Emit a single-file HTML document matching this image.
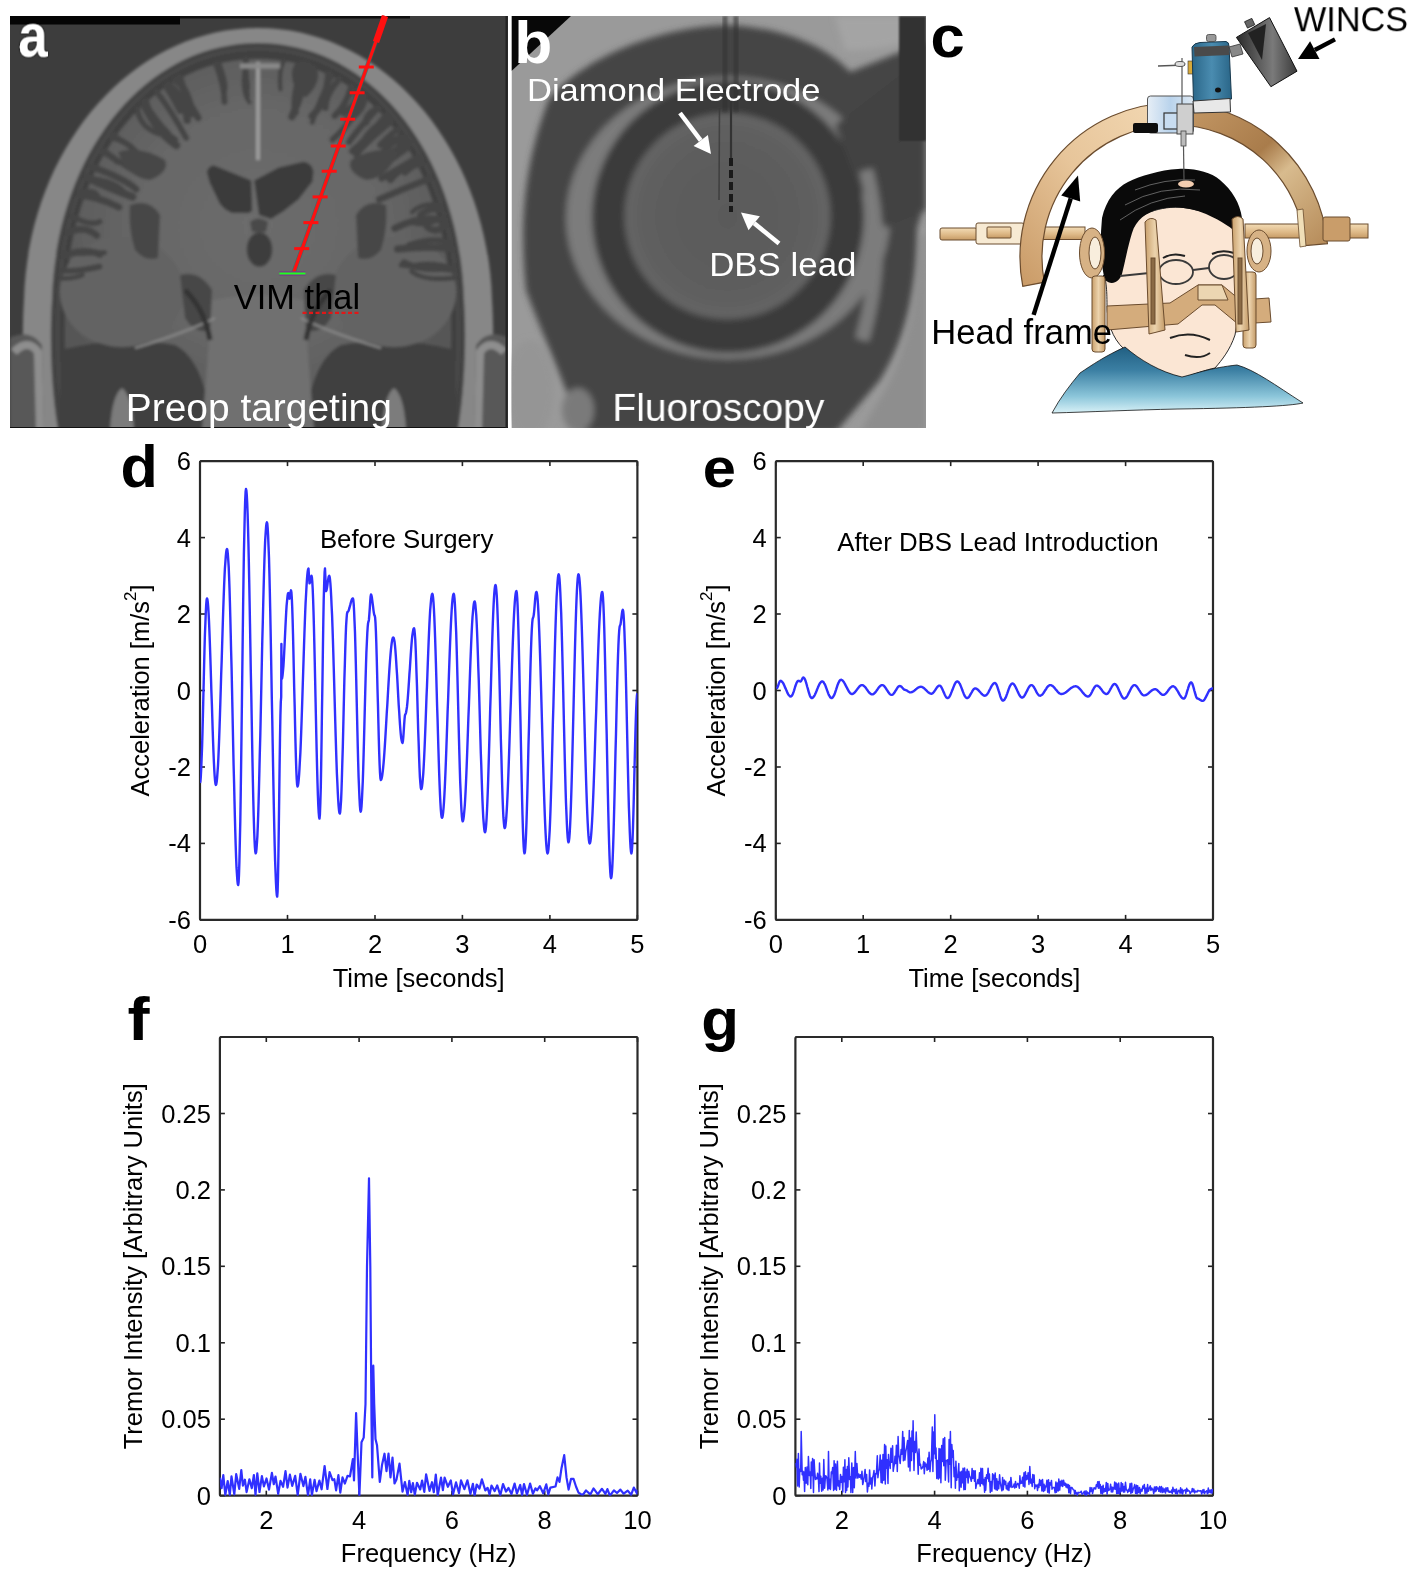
<!DOCTYPE html>
<html><head><meta charset="utf-8"><style>
html,body{margin:0;padding:0;background:#fff;width:1418px;height:1579px;overflow:hidden;}
svg{display:block;will-change:transform}
</style></head><body><svg width="1418" height="1579" viewBox="0 0 1418 1579"><defs>
<clipPath id="clipA"><rect x="10" y="16" width="498" height="412"/></clipPath>
<clipPath id="clipB"><rect x="511.5" y="16" width="414.5" height="412"/></clipPath>
<filter id="blurB" x="-5%" y="-5%" width="110%" height="110%"><feGaussianBlur stdDeviation="3"/></filter>
<filter id="blurA" x="-5%" y="-5%" width="110%" height="110%"><feGaussianBlur stdDeviation="1.6"/></filter>
<filter id="blurS" x="-20%" y="-20%" width="140%" height="140%"><feGaussianBlur stdDeviation="0.8"/></filter>
<filter id="txtsh" x="-10%" y="-10%" width="120%" height="120%"><feDropShadow dx="0" dy="0" stdDeviation="1.2" flood-color="#000" flood-opacity="0.9"/></filter>
<radialGradient id="brainG" cx="0.5" cy="0.45" r="0.55">
 <stop offset="0" stop-color="#6c6c6c"/><stop offset="0.6" stop-color="#666666"/><stop offset="1" stop-color="#575757"/>
</radialGradient>
<radialGradient id="discG" cx="0.5" cy="0.5" r="0.5">
 <stop offset="0" stop-color="#5a5a5a"/><stop offset="0.8" stop-color="#5e5e5e"/><stop offset="1" stop-color="#666"/>
</radialGradient>
<linearGradient id="shirtG" x1="0" y1="0" x2="0" y2="1">
 <stop offset="0" stop-color="#215f82"/><stop offset="0.35" stop-color="#3b7fa3"/><stop offset="0.75" stop-color="#8cc6da"/><stop offset="1" stop-color="#d8f1f7"/>
</linearGradient>
<linearGradient id="frameL" x1="0" y1="1" x2="1" y2="0">
 <stop offset="0" stop-color="#c99a66"/><stop offset="0.5" stop-color="#e7c59a"/><stop offset="1" stop-color="#f3d9b4"/>
</linearGradient>
<linearGradient id="frameR" x1="0" y1="0" x2="1" y2="1">
 <stop offset="0" stop-color="#c79b68"/><stop offset="0.45" stop-color="#a97c4b"/><stop offset="0.6" stop-color="#d8bb8e"/><stop offset="1" stop-color="#b58a58"/>
</linearGradient>
<linearGradient id="barG" x1="0" y1="0" x2="0" y2="1">
 <stop offset="0" stop-color="#f3dcb6"/><stop offset="0.6" stop-color="#ddb886"/><stop offset="1" stop-color="#c69b66"/>
</linearGradient>
<linearGradient id="tanG" x1="0" y1="0" x2="1" y2="0">
 <stop offset="0" stop-color="#c9a06c"/><stop offset="0.5" stop-color="#ecd3ad"/><stop offset="1" stop-color="#c49b68"/>
</linearGradient>
<linearGradient id="wincsG" x1="0" y1="0" x2="1" y2="0">
 <stop offset="0" stop-color="#2a2a2a"/><stop offset="0.35" stop-color="#5a5a5a"/><stop offset="0.6" stop-color="#7a7a7a"/><stop offset="1" stop-color="#3a3a3a"/>
</linearGradient>
<linearGradient id="boxG" x1="0" y1="0" x2="1" y2="0">
 <stop offset="0" stop-color="#2a6688"/><stop offset="0.5" stop-color="#4a8cb0"/><stop offset="1" stop-color="#2a6688"/>
</linearGradient>
<linearGradient id="mechG" x1="0" y1="0" x2="1" y2="0">
 <stop offset="0" stop-color="#e6eef6"/><stop offset="0.5" stop-color="#b9d3ec"/><stop offset="1" stop-color="#dde8f2"/>
</linearGradient>
</defs><g clip-path="url(#clipA)"><rect x="10" y="16" width="498" height="412" fill="#3d3d3d"/><g filter="url(#blurA)"><path d="M30.0,430 C22.0,380 22.0,330 24.0,300 C28.0,150.0 130.0,28.0 258.0,28.0 C386.0,28.0 488.0,150.0 492.0,300 C494.0,330 494.0,380 486.0,430 Z" fill="#878787" /><path d="M58.0,430 C50.0,380 50.0,330 52.0,300 C56.0,154.5 144.0,43.0 258.0,43.0 C372.0,43.0 460.0,154.5 464.0,300 C466.0,330 466.0,380 458.0,430 Z" fill="#434343" /><path d="M64.0,430 C56.0,380 56.0,330 58.0,300 C62.0,156.0 147.0,48.0 258.0,48.0 C369.0,48.0 454.0,156.0 458.0,300 C460.0,330 460.0,380 452.0,430 Z" fill="#4e4e4e" /><path d="M66.0,430 C58.0,380 58.0,330 60.0,300 C64.0,156.6 148.0,50.0 258.0,50.0 C368.0,50.0 452.0,156.6 456.0,300 C458.0,330 458.0,380 450.0,430 Z" fill="#404040" /><path d="M72.0,430 C64.0,380 64.0,330 66.0,300 C70.0,159.3 151.0,59.0 258.0,59.0 C365.0,59.0 446.0,159.3 450.0,300 C452.0,330 452.0,380 444.0,430 Z" fill="url(#brainG)" /><path d="M60,350 Q120,335 175,345 Q205,360 212,430 L60,430 Z" fill="#414141"/><path d="M456,350 Q396,335 341,345 Q311,360 304,430 L456,430 Z" fill="#414141"/><ellipse cx="122" cy="292" rx="62" ry="55" fill="#646464"/><ellipse cx="394" cy="292" rx="62" ry="55" fill="#646464"/><path d="M212,300 Q258,290 304,300 L314,430 L202,430 Z" fill="#6f6f6f"/><path d="M10,338 Q30,328 42,345 L44,430 L10,430 Z" fill="#585858"/><path d="M508,338 Q488,328 476,345 L474,430 L508,430 Z" fill="#585858"/><path d="M14,352 Q28,338 38,352 L40,430" fill="none" stroke="#8e8e8e" stroke-width="8"/><path d="M504,352 Q490,338 480,352 L478,430" fill="none" stroke="#8e8e8e" stroke-width="8"/><path d="M110,430 Q112,395 122,388 Q132,395 134,430 Z" fill="#7c7c7c"/><path d="M406,430 Q404,395 394,388 Q384,395 382,430 Z" fill="#7c7c7c"/><g fill="none" stroke="#444" stroke-linecap="round"><path d="M328.6,73.9 Q326.1,103.9 311.7,116.1" stroke-width="7.0"/><path d="M446.1,224.4 Q436.0,234.5 427.2,227.0" stroke-width="6.6"/><path d="M441.8,209.9 Q430.3,207.2 420.1,214.7" stroke-width="6.2"/><path d="M301.1,63.8 Q293.3,68.4 296.9,81.8" stroke-width="7.7"/><path d="M398.4,129.4 Q395.3,130.0 380.3,145.0" stroke-width="6.5"/><path d="M80.9,191.9 Q96.9,188.9 98.0,197.5" stroke-width="4.9"/><path d="M454.1,266.4 Q424.8,273.5 404.0,262.2" stroke-width="6.2"/><path d="M357.7,90.9 Q359.7,105.6 344.1,112.6" stroke-width="7.9"/><path d="M440.2,205.2 Q423.3,202.0 412.0,212.1" stroke-width="4.6"/><path d="M67.7,233.0 Q84.3,224.4 96.8,235.6" stroke-width="6.7"/><path d="M166.4,85.5 Q179.9,97.9 180.7,111.2" stroke-width="5.3"/><path d="M247.0,58.4 Q239.4,89.9 249.5,102.4" stroke-width="4.1"/><path d="M391.7,121.5 Q364.3,144.3 356.2,155.6" stroke-width="5.5"/><path d="M303.7,64.5 Q292.5,67.1 299.3,82.3" stroke-width="7.8"/><path d="M102.8,149.7 Q130.7,171.0 141.4,174.6" stroke-width="5.4"/><path d="M175.3,80.1 Q189.0,89.1 191.7,113.8" stroke-width="7.0"/><path d="M410.8,146.2 Q381.0,169.1 369.6,174.2" stroke-width="4.4"/><path d="M167.9,84.5 Q186.0,99.1 187.3,120.2" stroke-width="7.7"/><path d="M284.4,60.2 Q278.7,68.4 280.4,89.4" stroke-width="4.3"/><path d="M87.1,177.9 Q117.0,179.6 127.1,194.8" stroke-width="4.2"/><path d="M454.4,269.4 Q433.8,262.3 416.9,265.7" stroke-width="6.4"/><path d="M421.1,162.8 Q404.2,162.2 390.4,179.3" stroke-width="7.7"/><path d="M63.4,255.6 Q88.2,247.7 99.6,254.6" stroke-width="6.9"/><path d="M450.5,243.4 Q435.6,236.2 409.2,244.8" stroke-width="5.7"/><path d="M87.2,177.6 Q105.7,186.3 132.5,196.9" stroke-width="8.0"/><path d="M429.3,178.6 Q403.4,188.7 379.3,199.4" stroke-width="6.9"/><path d="M245.7,58.5 Q244.7,65.8 247.5,87.2" stroke-width="5.5"/><path d="M454.5,270.6 Q430.5,267.8 401.3,265.0" stroke-width="5.4"/><path d="M72.1,216.6 Q91.6,226.5 99.8,221.6" stroke-width="5.4"/><path d="M406.6,140.0 Q391.7,157.2 369.1,167.8" stroke-width="7.0"/><path d="M179.9,77.6 Q184.7,97.4 198.1,117.7" stroke-width="7.1"/><path d="M364.2,95.8 Q365.0,110.7 347.9,119.6" stroke-width="6.3"/><path d="M61.5,270.6 Q75.5,272.1 99.5,266.6" stroke-width="5.9"/><path d="M417.9,157.2 Q405.7,164.7 381.6,178.3" stroke-width="6.6"/><path d="M386.4,115.8 Q366.6,140.2 352.8,150.9" stroke-width="7.5"/><path d="M363.0,94.8 Q356.9,117.6 332.7,139.6" stroke-width="6.1"/><path d="M92.4,167.3 Q123.1,177.8 136.2,189.2" stroke-width="6.8"/><path d="M378.1,107.6 Q357.0,130.4 349.1,142.0" stroke-width="6.3"/><path d="M351.4,86.6 Q345.5,106.7 334.7,115.8" stroke-width="6.5"/><path d="M378.5,107.9 Q365.5,114.0 366.2,122.4" stroke-width="6.6"/><path d="M111.4,137.3 Q131.2,141.4 145.8,163.8" stroke-width="5.9"/><path d="M114.3,133.5 Q114.7,136.2 129.8,146.1" stroke-width="4.7"/><path d="M101.7,151.4 Q109.2,154.2 118.0,161.7" stroke-width="6.4"/><path d="M310.3,66.6 Q314.7,69.5 303.0,92.4" stroke-width="5.6"/><path d="M137.1,108.4 Q140.1,127.6 158.6,133.6" stroke-width="5.5"/><path d="M63.7,253.3 Q76.0,253.8 104.4,252.6" stroke-width="5.4"/><path d="M305.1,64.9 Q304.9,89.2 291.9,116.7" stroke-width="7.3"/><path d="M339.1,79.3 Q325.2,95.5 325.5,107.9" stroke-width="6.3"/><path d="M451.5,248.6 Q426.7,245.8 397.7,249.0" stroke-width="7.6"/><path d="M60.8,278.2 Q73.0,279.0 82.6,275.1" stroke-width="4.6"/><path d="M332.2,75.6 Q319.7,97.7 312.2,122.5" stroke-width="4.9"/><path d="M143.2,102.9 Q157.4,133.4 176.4,145.4" stroke-width="7.7"/><path d="M313.5,67.7 Q319.1,80.8 305.5,94.1" stroke-width="5.7"/><path d="M156.8,92.0 Q171.3,110.6 186.1,137.8" stroke-width="5.9"/><path d="M79.6,195.0 Q98.1,196.9 118.8,207.1" stroke-width="7.1"/><path d="M421.3,163.1 Q413.8,162.9 405.0,171.8" stroke-width="7.7"/><path d="M405.0,137.8 Q389.6,139.1 383.4,154.3" stroke-width="8.0"/><path d="M144.0,102.1 Q155.8,121.1 168.7,134.2" stroke-width="6.4"/><path d="M388.9,118.4 Q386.2,122.4 373.1,134.3" stroke-width="6.1"/><path d="M165.5,86.0 Q173.2,98.0 179.7,111.3" stroke-width="5.4"/><path d="M389.6,119.2 Q366.2,128.3 361.3,147.3" stroke-width="5.8"/><path d="M445.0,220.5 Q420.8,214.7 394.8,228.4" stroke-width="7.1"/><path d="M215.9,63.5 Q224.4,85.4 224.5,101.9" stroke-width="5.9"/><path d="M444.0,217.2 Q426.0,227.0 412.3,222.8" stroke-width="4.8"/><path d="M145.6,100.8 Q151.5,127.0 174.9,139.7" stroke-width="6.8"/><path d="M218.8,62.8 Q227.3,85.0 224.7,90.8" stroke-width="4.6"/><path d="M245.3,58.5 Q246.5,74.2 247.9,96.7" stroke-width="4.6"/><path d="M307.9,65.8 Q293.0,83.6 295.3,112.2" stroke-width="7.3"/><path d="M408.8,143.1 Q381.9,159.9 374.1,167.8" stroke-width="7.9"/><path d="M455.2,277.7 Q424.4,281.5 411.6,271.6" stroke-width="4.9"/></g><g fill="#474747"><path d="M118,152 Q140,145 165,160 Q170,172 150,180 Q128,178 118,152 Z"/><path d="M130,205 Q150,198 160,215 L158,258 Q145,262 135,250 Q128,228 130,205 Z"/><path d="M398,152 Q376,145 351,160 Q346,172 366,180 Q388,178 398,152 Z"/><path d="M386,205 Q366,198 356,215 L358,258 Q371,262 381,250 Q388,228 386,205 Z"/><path d="M180,275 Q200,270 212,290 L210,330 Q195,335 185,318 Z"/><path d="M336,275 Q316,270 304,290 L306,330 Q321,335 331,318 Z"/></g><path d="M135,348 Q185,333 215,318" fill="none" stroke="#8a8a8a" stroke-width="2"/><path d="M381,348 Q331,333 301,318" fill="none" stroke="#8a8a8a" stroke-width="2"/><path d="M185,290 Q205,310 210,340" fill="none" stroke="#333" stroke-width="5"/><path d="M331,290 Q311,310 306,340" fill="none" stroke="#333" stroke-width="5"/><path d="M258,62 L258,160" stroke="#9c9c9c" stroke-width="4"/><path d="M240,66 L280,66" stroke="#8a8a8a" stroke-width="5"/><path d="M206.8,171.6 Q210,164 214.7,165.7 L251.2,180.5 L252.2,211 Q248,214 245.3,213 L232.4,213 Q224,210 219.6,203.2 L209.7,182.4 Z" fill="#3a3a3a"/><path d="M254.2,180.5 L278.8,167.6 L303.5,161.7 Q312,163 313.4,171.6 L312.4,181.5 L298.6,199.2 L283.8,211 L271,219 L259.1,215 Z" fill="#3a3a3a"/><ellipse cx="259.5" cy="249.5" rx="12.8" ry="17.3" fill="#3c3c3c"/><path d="M250,222 Q258,215 268,222 L266,232 L252,232 Z" fill="#4a4a4a"/></g><rect x="10" y="16" width="170" height="8.5" fill="#050505"/><rect x="180" y="16" width="230" height="2.5" fill="#101010"/><rect x="10" y="427" width="498" height="2" fill="#111"/><rect x="505.5" y="16" width="2.2" height="413" fill="#222"/></g><line x1="385" y1="16" x2="293.4" y2="273.2" stroke="#1f6f6a" stroke-width="4.6" opacity="0.55"/><line x1="385" y1="16" x2="293.4" y2="273.2" stroke="#ff1010" stroke-width="3.2"/><line x1="385" y1="16" x2="376" y2="42" stroke="#ff1010" stroke-width="6.5"/><g stroke="#ff1010" stroke-width="3"><line x1="358.8" y1="67.0" x2="373.8" y2="67.0"/><line x1="349.6" y1="92.8" x2="364.6" y2="92.8"/><line x1="340.2" y1="119.2" x2="355.2" y2="119.2"/><line x1="330.7" y1="146.0" x2="345.7" y2="146.0"/><line x1="321.7" y1="171.2" x2="336.7" y2="171.2"/><line x1="312.6" y1="196.9" x2="327.6" y2="196.9"/><line x1="303.4" y1="222.6" x2="318.4" y2="222.6"/><line x1="294.2" y1="248.6" x2="309.2" y2="248.6"/></g><line x1="279.3" y1="273.5" x2="305.5" y2="273.5" stroke="#7a3a8a" stroke-width="4.5"/><line x1="279.3" y1="273.5" x2="305.5" y2="273.5" stroke="#20ff20" stroke-width="2"/><line x1="302.5" y1="312.8" x2="359.4" y2="312.8" stroke="#e01818" stroke-width="2.2" stroke-dasharray="4,2.5"/><text transform="translate(233.83,308.60) scale(0.9944,1)" font-family='"Liberation Sans", sans-serif' font-size="34.62" fill="#000" >VIM thal</text><g clip-path="url(#clipA)"><text transform="translate(125.71,420.50) scale(0.9850,1)" font-family='"Liberation Sans", sans-serif' font-size="39.53" fill="#fff" >Preop targeting</text></g><text transform="translate(18.16,56.50) scale(0.8774,1)" font-family='"Liberation Sans", sans-serif' font-size="60.40" font-weight="bold" fill="#fff" filter="url(#txtsh)">a</text><g clip-path="url(#clipB)"><rect x="511.5" y="16" width="414.5" height="413" fill="#9a9a9a"/><g filter="url(#blurB)"><path d="M728,25 C790,28 830,50 850,72 L926,42 L926,200 L917,228 C917,290 905,340 880,380 L836,432 L580,432 C565,380 540,330 526,290 C520,230 522,170 548,101 C570,70 640,28 728,25 Z" fill="#454545"/><ellipse cx="728" cy="218" rx="162" ry="141" fill="#7c7c7c"/><circle cx="728" cy="217" r="136" fill="#3a3a3a"/><circle cx="727.5" cy="216" r="103" fill="url(#discG)"/><path d="M835,125 L926,55 L926,210 L885,228 L858,185 Z" fill="#434343"/><path d="M835,16 L926,16 L926,36 Q880,52 845,50 Z" fill="#a4a4a4"/><path d="M866,170 Q888,250 862,340" fill="none" stroke="#7c7c7c" stroke-width="14"/><path d="M926,235 L921,235 Q918,330 885,390 L860,432 L926,432 Z" fill="#8e8e8e"/><ellipse cx="530" cy="390" rx="24" ry="50" fill="#959595"/><ellipse cx="578" cy="410" rx="16" ry="22" fill="#7a7a7a"/></g><rect x="899" y="16" width="27" height="125" fill="#303030" filter="url(#blurS)"/><path d="M511.5,16 L571,16 L511.5,71 Z" fill="#080808"/><g filter="url(#blurS)"><line x1="725" y1="16" x2="725" y2="112" stroke="#303030" stroke-width="5" opacity="0.55"/><line x1="736" y1="16" x2="736" y2="112" stroke="#303030" stroke-width="5" opacity="0.55"/></g><line x1="719.5" y1="108" x2="719" y2="200" stroke="#3a3a3a" stroke-width="1.6" opacity="0.8"/><line x1="731" y1="100" x2="731" y2="158" stroke="#333" stroke-width="2.2"/><line x1="731" y1="158" x2="731" y2="212" stroke="#1a1a1a" stroke-width="4" stroke-dasharray="8,4"/></g><line x1="680.0" y1="113.0" x2="700.7" y2="140.4" stroke="#fff" stroke-width="4.5"/><path d="M711.0,154.0 L693.6,145.9 L707.9,135.0 Z" fill="#fff"/><line x1="779.0" y1="243.5" x2="754.2" y2="223.2" stroke="#fff" stroke-width="4.5"/><path d="M741.0,212.5 L759.9,216.3 L748.5,230.2 Z" fill="#fff"/><text transform="translate(526.97,100.60) scale(1.0932,1)" font-family='"Liberation Sans", sans-serif' font-size="31.59" fill="#fff" >Diamond Electrode</text><text transform="translate(709.14,276.20) scale(1.0361,1)" font-family='"Liberation Sans", sans-serif' font-size="33.66" fill="#fff" >DBS lead</text><g clip-path="url(#clipB)"><text transform="translate(612.41,420.90) scale(0.9830,1)" font-family='"Liberation Sans", sans-serif' font-size="39.59" fill="#fff" >Fluoroscopy</text></g><text transform="translate(514.19,62.70) scale(1.0431,1)" font-family='"Liberation Sans", sans-serif' font-size="59.73" font-weight="bold" fill="#fff" >b</text><g stroke="#6b4c2e" stroke-width="1"><rect x="940" y="228" width="37" height="12" rx="2" fill="url(#barG)"/><rect x="976" y="223" width="48" height="21" rx="2" fill="#f7ead3"/><rect x="987" y="227" width="24" height="11" rx="1" fill="url(#barG)"/><rect x="1040" y="227" width="45" height="12.5" fill="url(#barG)"/><rect x="1245" y="224" width="123" height="14" fill="url(#barG)"/></g><path d="M1022.8,286.4 A154,154 0 0 1 1174.0,103.0 L1174.0,125.0 A132,132 0 0 0 1044.4,282.2 Z" fill="url(#frameL)" stroke="#6b4c2e" stroke-width="1.2"/><path d="M1174.0,103.0 A154,154 0 0 1 1327.4,243.6 L1305.5,245.5 A132,132 0 0 0 1174.0,125.0 Z" fill="url(#frameR)" stroke="#6b4c2e" stroke-width="1.2"/><rect x="1323" y="217" width="27" height="24" rx="2" fill="#c99d6a" stroke="#6b4c2e" stroke-width="1"/><path d="M1297,210 L1303,209 L1306,246 L1300,247 Z" fill="#f0dfb8" stroke="#6b4c2e" stroke-width="0.8"/><path d="M1103,276 C1106,276 1107,290 1107,305 C1107,322 1112,338 1124,349 L1128,356 C1140,362 1160,372 1182,378 C1195,374 1205,370 1215,368 C1222,360 1230,350 1235,335 C1240,310 1240,280 1239,255 L1237,230 C1225,218 1205,210 1180,207 C1155,207 1135,215 1125,235 C1118,252 1112,268 1103,276 Z" fill="#fbe6d4" stroke="#2a2a2a" stroke-width="1"/><path d="M1105,280 C1100,262 1100,240 1102,218 C1106,200 1116,188 1128,182 C1140,176 1160,170 1178,169 C1195,168 1210,172 1220,180 C1232,190 1240,203 1242,218 L1240,236 C1232,228 1222,221 1206,214 C1192,208 1178,206 1160,209 C1146,212 1136,220 1132,233 C1128,246 1125,262 1122,274 C1119,282 1112,286 1105,280 Z" fill="#0a0a0a"/><g fill="none" stroke="#777" stroke-width="0.8"><path d="M1125,205 Q1160,185 1200,190"/><path d="M1120,220 Q1150,198 1185,196"/><path d="M1135,190 Q1165,178 1195,180"/></g><ellipse cx="1186" cy="184" rx="8" ry="3.5" fill="#f3cdb0"/><path d="M1052,413 C1060,398 1070,385 1080,373 C1092,365 1105,356 1125,347 C1140,360 1160,372 1182,377 C1198,373 1210,368 1237,365 C1255,370 1275,385 1303,403 C1290,406 1250,408 1178,409 C1130,410 1090,412 1052,413 Z" fill="url(#shirtG)" stroke="#111" stroke-width="0.8"/><g fill="none" stroke="#3a3a3a" stroke-width="1.8"><ellipse cx="1176" cy="272" rx="17" ry="12"/><ellipse cx="1224" cy="267" rx="15" ry="12"/><line x1="1193" y1="270" x2="1209" y2="268"/><line x1="1159" y1="272" x2="1120" y2="276"/></g><g fill="none" stroke="#222" stroke-width="2"><path d="M1163,258 q10,-6 22,-2"/><path d="M1212,254 q10,-5 22,-1"/><path d="M1170,338 q20,-8 40,2"/><path d="M1185,355 q15,5 25,-2"/></g><g stroke="#6b4c2e" stroke-width="1"><path d="M1107,306 L1170,303 L1198,285 L1222,285 L1240,300 L1269,298 L1271,322 L1238,324 L1215,305 L1202,305 L1178,324 L1107,330 Z" fill="#d4ac7c"/><path d="M1198,285 L1222,285 L1228,300 L1198,300 Z" fill="#ecd6b2"/><ellipse cx="1092" cy="253" rx="12.5" ry="25" fill="#d7b285"/><ellipse cx="1095" cy="253" rx="6" ry="16" fill="#f8eedd"/><ellipse cx="1259" cy="251" rx="12" ry="21" fill="#d7b285"/><ellipse cx="1257" cy="251" rx="6" ry="13" fill="#f8eedd"/><rect x="1092" y="276" width="13" height="76" rx="3" fill="url(#tanG)"/><rect x="1243" y="272" width="13" height="76" rx="3" fill="url(#tanG)"/><path d="M1145,222 Q1150,216 1156,220 L1165,330 L1149,334 Z" fill="url(#tanG)"/><path d="M1232,219 Q1238,214 1243,219 L1249,330 L1236,332 Z" fill="url(#tanG)"/><rect x="1151" y="258" width="4" height="66" fill="#8a6a45"/><rect x="1238" y="258" width="4" height="66" fill="#8a6a45"/></g><rect x="1147.5" y="96" width="46" height="37" rx="3" fill="url(#mechG)" stroke="#555" stroke-width="1"/><rect x="1133" y="123" width="25" height="10" rx="2" fill="#0d0d0d"/><rect x="1164" y="113" width="16" height="16" fill="#c8dcf0" stroke="#333" stroke-width="1.2"/><rect x="1177" y="104" width="16" height="30" fill="#cfcfcf" stroke="#444" stroke-width="1"/><rect x="1181" y="131" width="5" height="15" fill="#bbb" stroke="#444" stroke-width="0.8"/><line x1="1183.5" y1="146" x2="1184" y2="180" stroke="#555" stroke-width="1.2"/><line x1="1182" y1="58" x2="1182" y2="104" stroke="#555" stroke-width="1.2"/><line x1="1158" y1="66" x2="1185" y2="65" stroke="#555" stroke-width="1.4"/><ellipse cx="1180" cy="64" rx="5" ry="2.5" fill="#ddd" stroke="#333" stroke-width="0.8"/><rect x="1188" y="61" width="6" height="13" fill="#d7a93a" stroke="#333" stroke-width="0.6"/><path d="M1192,47 Q1194,43 1200,42.5 L1226,41.5 Q1229,42 1229,46 L1231.5,99 L1193.5,102 Z" fill="url(#boxG)" stroke="#17384d" stroke-width="1"/><path d="M1194,47 L1229,45.5 L1229.5,55 L1194.5,56.5 Z" fill="#4a4a4a"/><rect x="1206.5" y="34.5" width="9.5" height="7" rx="2" fill="#999" stroke="#444" stroke-width="0.8"/><path d="M1193,101 L1230,98.5 L1230.5,112 L1194,113 Z" fill="#e8e8e8" stroke="#333" stroke-width="1"/><ellipse cx="1218" cy="90" rx="3" ry="2.5" fill="#111"/><path d="M1229,47 L1240,44 L1243,54 L1232,57 Z" fill="#888" stroke="#333" stroke-width="0.8"/><path d="M1236.4,37.4 L1269.5,17.6 L1297,71.2 L1270.9,86.7 Z" fill="url(#wincsG)" stroke="#111" stroke-width="1"/><path d="M1248,33 L1266,24 L1262,60 Z" fill="#222"/><rect x="1245.5" y="20" width="8" height="7" fill="#666" stroke="#222" stroke-width="0.8" transform="rotate(-25 1249 23)"/><line x1="1335.0" y1="39.4" x2="1314.8" y2="50.0" stroke="#000" stroke-width="4.4"/><path d="M1298.0,58.9 L1310.1,41.2 L1319.5,58.9 Z" fill="#000"/><line x1="1033.6" y1="314.8" x2="1070.7" y2="198.5" stroke="#000" stroke-width="4.4"/><path d="M1078.0,175.6 L1080.2,201.5 L1061.2,195.4 Z" fill="#000"/><text transform="translate(1293.93,31.24) scale(0.9584,1)" font-family='"Liberation Sans", sans-serif' font-size="35.73" fill="#000" >WINCS</text><text transform="translate(931.36,344.00) scale(1.0110,1)" font-family='"Liberation Sans", sans-serif' font-size="34.21" fill="#000" >Head frame</text><text transform="translate(930.50,56.71) scale(1.0334,1)" font-family='"Liberation Sans", sans-serif' font-size="59.49" font-weight="bold" fill="#000" >c</text><g stroke="#222" stroke-width="1.6" fill="none"><line x1="200.0" y1="919.9" x2="200.0" y2="914.9"/><line x1="200.0" y1="461.1" x2="200.0" y2="466.1"/><line x1="287.5" y1="919.9" x2="287.5" y2="914.9"/><line x1="287.5" y1="461.1" x2="287.5" y2="466.1"/><line x1="375.0" y1="919.9" x2="375.0" y2="914.9"/><line x1="375.0" y1="461.1" x2="375.0" y2="466.1"/><line x1="462.4" y1="919.9" x2="462.4" y2="914.9"/><line x1="462.4" y1="461.1" x2="462.4" y2="466.1"/><line x1="549.9" y1="919.9" x2="549.9" y2="914.9"/><line x1="549.9" y1="461.1" x2="549.9" y2="466.1"/><line x1="637.4" y1="919.9" x2="637.4" y2="914.9"/><line x1="637.4" y1="461.1" x2="637.4" y2="466.1"/><line x1="200.0" y1="919.9" x2="205.0" y2="919.9"/><line x1="637.4" y1="919.9" x2="632.4" y2="919.9"/><line x1="200.0" y1="843.4" x2="205.0" y2="843.4"/><line x1="637.4" y1="843.4" x2="632.4" y2="843.4"/><line x1="200.0" y1="767.0" x2="205.0" y2="767.0"/><line x1="637.4" y1="767.0" x2="632.4" y2="767.0"/><line x1="200.0" y1="690.5" x2="205.0" y2="690.5"/><line x1="637.4" y1="690.5" x2="632.4" y2="690.5"/><line x1="200.0" y1="614.0" x2="205.0" y2="614.0"/><line x1="637.4" y1="614.0" x2="632.4" y2="614.0"/><line x1="200.0" y1="537.6" x2="205.0" y2="537.6"/><line x1="637.4" y1="537.6" x2="632.4" y2="537.6"/><line x1="200.0" y1="461.1" x2="205.0" y2="461.1"/><line x1="637.4" y1="461.1" x2="632.4" y2="461.1"/></g><rect x="200.0" y="461.1" width="437.4" height="458.8" fill="none" stroke="#2a2a2a" stroke-width="2.2" rx="1.5"/><g font-family='"Liberation Sans", sans-serif' font-size="25.5" fill="#000"><text x="200.0" y="952.9" text-anchor="middle">0</text><text x="287.5" y="952.9" text-anchor="middle">1</text><text x="375.0" y="952.9" text-anchor="middle">2</text><text x="462.4" y="952.9" text-anchor="middle">3</text><text x="549.9" y="952.9" text-anchor="middle">4</text><text x="637.4" y="952.9" text-anchor="middle">5</text><text x="191.0" y="928.9" text-anchor="end">-6</text><text x="191.0" y="852.4" text-anchor="end">-4</text><text x="191.0" y="776.0" text-anchor="end">-2</text><text x="191.0" y="699.5" text-anchor="end">0</text><text x="191.0" y="623.0" text-anchor="end">2</text><text x="191.0" y="546.6" text-anchor="end">4</text><text x="191.0" y="470.1" text-anchor="end">6</text><text x="418.7" y="987.1" text-anchor="middle">Time [seconds]</text><text transform="translate(149.0,690.5) rotate(-90)" text-anchor="middle">Acceleration [m/s<tspan dy="-13" font-size="17">2</tspan><tspan dy="13">]</tspan></text></g><text transform="translate(319.88,548.20) scale(0.9983,1)" font-family='"Liberation Sans", sans-serif' font-size="25.85" fill="#000" >Before Surgery</text><g stroke="#222" stroke-width="1.6" fill="none"><line x1="775.8" y1="919.9" x2="775.8" y2="914.9"/><line x1="775.8" y1="461.1" x2="775.8" y2="466.1"/><line x1="863.2" y1="919.9" x2="863.2" y2="914.9"/><line x1="863.2" y1="461.1" x2="863.2" y2="466.1"/><line x1="950.7" y1="919.9" x2="950.7" y2="914.9"/><line x1="950.7" y1="461.1" x2="950.7" y2="466.1"/><line x1="1038.1" y1="919.9" x2="1038.1" y2="914.9"/><line x1="1038.1" y1="461.1" x2="1038.1" y2="466.1"/><line x1="1125.6" y1="919.9" x2="1125.6" y2="914.9"/><line x1="1125.6" y1="461.1" x2="1125.6" y2="466.1"/><line x1="1213.0" y1="919.9" x2="1213.0" y2="914.9"/><line x1="1213.0" y1="461.1" x2="1213.0" y2="466.1"/><line x1="775.8" y1="919.9" x2="780.8" y2="919.9"/><line x1="1213.0" y1="919.9" x2="1208.0" y2="919.9"/><line x1="775.8" y1="843.4" x2="780.8" y2="843.4"/><line x1="1213.0" y1="843.4" x2="1208.0" y2="843.4"/><line x1="775.8" y1="767.0" x2="780.8" y2="767.0"/><line x1="1213.0" y1="767.0" x2="1208.0" y2="767.0"/><line x1="775.8" y1="690.5" x2="780.8" y2="690.5"/><line x1="1213.0" y1="690.5" x2="1208.0" y2="690.5"/><line x1="775.8" y1="614.0" x2="780.8" y2="614.0"/><line x1="1213.0" y1="614.0" x2="1208.0" y2="614.0"/><line x1="775.8" y1="537.6" x2="780.8" y2="537.6"/><line x1="1213.0" y1="537.6" x2="1208.0" y2="537.6"/><line x1="775.8" y1="461.1" x2="780.8" y2="461.1"/><line x1="1213.0" y1="461.1" x2="1208.0" y2="461.1"/></g><rect x="775.8" y="461.1" width="437.2" height="458.8" fill="none" stroke="#2a2a2a" stroke-width="2.2" rx="1.5"/><g font-family='"Liberation Sans", sans-serif' font-size="25.5" fill="#000"><text x="775.8" y="952.9" text-anchor="middle">0</text><text x="863.2" y="952.9" text-anchor="middle">1</text><text x="950.7" y="952.9" text-anchor="middle">2</text><text x="1038.1" y="952.9" text-anchor="middle">3</text><text x="1125.6" y="952.9" text-anchor="middle">4</text><text x="1213.0" y="952.9" text-anchor="middle">5</text><text x="766.8" y="928.9" text-anchor="end">-6</text><text x="766.8" y="852.4" text-anchor="end">-4</text><text x="766.8" y="776.0" text-anchor="end">-2</text><text x="766.8" y="699.5" text-anchor="end">0</text><text x="766.8" y="623.0" text-anchor="end">2</text><text x="766.8" y="546.6" text-anchor="end">4</text><text x="766.8" y="470.1" text-anchor="end">6</text><text x="994.4" y="987.1" text-anchor="middle">Time [seconds]</text><text transform="translate(725.0,690.5) rotate(-90)" text-anchor="middle">Acceleration [m/s<tspan dy="-13" font-size="17">2</tspan><tspan dy="13">]</tspan></text></g><text transform="translate(837.25,551.00) scale(0.9992,1)" font-family='"Liberation Sans", sans-serif' font-size="25.85" fill="#000" >After DBS Lead Introduction</text><g stroke="#222" stroke-width="1.6" fill="none"><line x1="266.3" y1="1495.7" x2="266.3" y2="1490.7"/><line x1="266.3" y1="1037.0" x2="266.3" y2="1042.0"/><line x1="359.1" y1="1495.7" x2="359.1" y2="1490.7"/><line x1="359.1" y1="1037.0" x2="359.1" y2="1042.0"/><line x1="451.9" y1="1495.7" x2="451.9" y2="1490.7"/><line x1="451.9" y1="1037.0" x2="451.9" y2="1042.0"/><line x1="544.7" y1="1495.7" x2="544.7" y2="1490.7"/><line x1="544.7" y1="1037.0" x2="544.7" y2="1042.0"/><line x1="637.5" y1="1495.7" x2="637.5" y2="1490.7"/><line x1="637.5" y1="1037.0" x2="637.5" y2="1042.0"/><line x1="219.9" y1="1495.7" x2="224.9" y2="1495.7"/><line x1="637.5" y1="1495.7" x2="632.5" y2="1495.7"/><line x1="219.9" y1="1419.2" x2="224.9" y2="1419.2"/><line x1="637.5" y1="1419.2" x2="632.5" y2="1419.2"/><line x1="219.9" y1="1342.8" x2="224.9" y2="1342.8"/><line x1="637.5" y1="1342.8" x2="632.5" y2="1342.8"/><line x1="219.9" y1="1266.3" x2="224.9" y2="1266.3"/><line x1="637.5" y1="1266.3" x2="632.5" y2="1266.3"/><line x1="219.9" y1="1189.9" x2="224.9" y2="1189.9"/><line x1="637.5" y1="1189.9" x2="632.5" y2="1189.9"/><line x1="219.9" y1="1113.5" x2="224.9" y2="1113.5"/><line x1="637.5" y1="1113.5" x2="632.5" y2="1113.5"/><line x1="219.9" y1="1037.0" x2="224.9" y2="1037.0"/><line x1="637.5" y1="1037.0" x2="632.5" y2="1037.0"/></g><rect x="219.9" y="1037.0" width="417.6" height="458.7" fill="none" stroke="#2a2a2a" stroke-width="2.2" rx="1.5"/><g font-family='"Liberation Sans", sans-serif' font-size="25.5" fill="#000"><text x="266.3" y="1528.7" text-anchor="middle">2</text><text x="359.1" y="1528.7" text-anchor="middle">4</text><text x="451.9" y="1528.7" text-anchor="middle">6</text><text x="544.7" y="1528.7" text-anchor="middle">8</text><text x="637.5" y="1528.7" text-anchor="middle">10</text><text x="210.9" y="1504.7" text-anchor="end">0</text><text x="210.9" y="1428.2" text-anchor="end">0.05</text><text x="210.9" y="1351.8" text-anchor="end">0.1</text><text x="210.9" y="1275.3" text-anchor="end">0.15</text><text x="210.9" y="1198.9" text-anchor="end">0.2</text><text x="210.9" y="1122.5" text-anchor="end">0.25</text><text x="428.7" y="1562.0" text-anchor="middle">Frequency (Hz)</text><text transform="translate(142.0,1266.3) rotate(-90)" text-anchor="middle">Tremor Intensity [Arbitrary Units]</text></g><g stroke="#222" stroke-width="1.6" fill="none"><line x1="841.8" y1="1495.7" x2="841.8" y2="1490.7"/><line x1="841.8" y1="1037.0" x2="841.8" y2="1042.0"/><line x1="934.6" y1="1495.7" x2="934.6" y2="1490.7"/><line x1="934.6" y1="1037.0" x2="934.6" y2="1042.0"/><line x1="1027.4" y1="1495.7" x2="1027.4" y2="1490.7"/><line x1="1027.4" y1="1037.0" x2="1027.4" y2="1042.0"/><line x1="1120.2" y1="1495.7" x2="1120.2" y2="1490.7"/><line x1="1120.2" y1="1037.0" x2="1120.2" y2="1042.0"/><line x1="1213.0" y1="1495.7" x2="1213.0" y2="1490.7"/><line x1="1213.0" y1="1037.0" x2="1213.0" y2="1042.0"/><line x1="795.4" y1="1495.7" x2="800.4" y2="1495.7"/><line x1="1213.0" y1="1495.7" x2="1208.0" y2="1495.7"/><line x1="795.4" y1="1419.2" x2="800.4" y2="1419.2"/><line x1="1213.0" y1="1419.2" x2="1208.0" y2="1419.2"/><line x1="795.4" y1="1342.8" x2="800.4" y2="1342.8"/><line x1="1213.0" y1="1342.8" x2="1208.0" y2="1342.8"/><line x1="795.4" y1="1266.3" x2="800.4" y2="1266.3"/><line x1="1213.0" y1="1266.3" x2="1208.0" y2="1266.3"/><line x1="795.4" y1="1189.9" x2="800.4" y2="1189.9"/><line x1="1213.0" y1="1189.9" x2="1208.0" y2="1189.9"/><line x1="795.4" y1="1113.5" x2="800.4" y2="1113.5"/><line x1="1213.0" y1="1113.5" x2="1208.0" y2="1113.5"/><line x1="795.4" y1="1037.0" x2="800.4" y2="1037.0"/><line x1="1213.0" y1="1037.0" x2="1208.0" y2="1037.0"/></g><rect x="795.4" y="1037.0" width="417.6" height="458.7" fill="none" stroke="#2a2a2a" stroke-width="2.2" rx="1.5"/><g font-family='"Liberation Sans", sans-serif' font-size="25.5" fill="#000"><text x="841.8" y="1528.7" text-anchor="middle">2</text><text x="934.6" y="1528.7" text-anchor="middle">4</text><text x="1027.4" y="1528.7" text-anchor="middle">6</text><text x="1120.2" y="1528.7" text-anchor="middle">8</text><text x="1213.0" y="1528.7" text-anchor="middle">10</text><text x="786.4" y="1504.7" text-anchor="end">0</text><text x="786.4" y="1428.2" text-anchor="end">0.05</text><text x="786.4" y="1351.8" text-anchor="end">0.1</text><text x="786.4" y="1275.3" text-anchor="end">0.15</text><text x="786.4" y="1198.9" text-anchor="end">0.2</text><text x="786.4" y="1122.5" text-anchor="end">0.25</text><text x="1004.2" y="1562.0" text-anchor="middle">Frequency (Hz)</text><text transform="translate(717.5,1266.3) rotate(-90)" text-anchor="middle">Tremor Intensity [Arbitrary Units]</text></g><clipPath id="c140374390627008"><rect x="200.0" y="459.1" width="437.4" height="460.79999999999995"/></clipPath><path d="M200.0,783.0 L200.4,781.5 L200.8,776.8 L201.2,769.2 L201.6,758.9 L202.1,746.3 L202.5,731.8 L202.9,716.0 L203.3,699.2 L203.7,682.2 L204.1,665.4 L204.5,649.5 L204.9,635.0 L205.4,622.5 L205.8,612.2 L206.2,604.6 L206.6,599.9 L207.0,598.4 L207.4,599.3 L207.8,602.1 L208.2,606.8 L208.6,613.2 L209.0,621.1 L209.4,630.6 L209.8,641.2 L210.2,652.9 L210.6,665.4 L211.0,678.4 L211.4,691.6 L211.9,704.9 L212.3,717.9 L212.7,730.4 L213.1,742.1 L213.5,752.7 L213.9,762.2 L214.3,770.1 L214.7,776.5 L215.1,781.2 L215.5,784.0 L215.9,784.9 L216.3,784.1 L216.7,781.8 L217.1,777.8 L217.5,772.4 L218.0,765.5 L218.4,757.3 L218.8,747.9 L219.2,737.4 L219.6,726.0 L220.0,713.7 L220.4,700.8 L220.8,687.5 L221.2,673.8 L221.7,660.1 L222.1,646.5 L222.5,633.2 L222.9,620.3 L223.3,608.0 L223.7,596.6 L224.1,586.0 L224.5,576.6 L224.9,568.4 L225.4,561.6 L225.8,556.1 L226.2,552.2 L226.6,549.8 L227.0,549.0 L227.4,550.2 L227.8,553.6 L228.2,559.2 L228.7,566.9 L229.1,576.7 L229.5,588.3 L229.9,601.8 L230.3,616.7 L230.7,633.1 L231.1,650.5 L231.6,668.9 L232.0,687.9 L232.4,707.3 L232.8,726.8 L233.2,746.3 L233.6,765.3 L234.1,783.6 L234.5,801.1 L234.9,817.4 L235.3,832.4 L235.7,845.8 L236.1,857.5 L236.5,867.2 L237.0,875.0 L237.4,880.6 L237.8,884.0 L238.2,885.1 L238.6,882.4 L239.0,874.4 L239.4,861.2 L239.8,843.3 L240.3,821.2 L240.7,795.4 L241.1,766.6 L241.5,735.7 L241.9,703.4 L242.3,670.7 L242.7,638.4 L243.1,607.5 L243.5,578.7 L243.9,552.9 L244.4,530.8 L244.8,512.9 L245.2,499.7 L245.6,491.7 L246.0,489.0 L246.4,490.6 L246.8,495.2 L247.2,502.9 L247.6,513.4 L248.0,526.7 L248.4,542.4 L248.8,560.3 L249.2,580.1 L249.6,601.5 L250.0,624.0 L250.4,647.4 L250.8,671.2 L251.3,695.0 L251.7,718.3 L252.1,740.9 L252.5,762.3 L252.9,782.1 L253.3,800.0 L253.7,815.7 L254.1,829.0 L254.5,839.5 L254.9,847.2 L255.3,851.8 L255.7,853.4 L256.1,852.3 L256.5,848.9 L256.9,843.4 L257.4,835.8 L257.8,826.1 L258.2,814.6 L258.6,801.4 L259.0,786.7 L259.4,770.6 L259.8,753.4 L260.3,735.3 L260.7,716.6 L261.1,697.4 L261.5,678.2 L261.9,659.1 L262.3,640.3 L262.8,622.3 L263.2,605.0 L263.6,589.0 L264.0,574.2 L264.4,561.0 L264.8,549.5 L265.2,539.9 L265.7,532.3 L266.1,526.7 L266.5,523.4 L266.9,522.3 L267.3,523.7 L267.7,528.2 L268.1,535.4 L268.5,545.4 L269.0,558.0 L269.4,573.0 L269.8,590.1 L270.2,609.1 L270.6,629.7 L271.0,651.6 L271.4,674.4 L271.8,697.7 L272.3,721.2 L272.7,744.5 L273.1,767.3 L273.5,789.1 L273.9,809.7 L274.3,828.7 L274.7,845.9 L275.1,860.8 L275.6,873.4 L276.0,883.4 L276.4,890.7 L276.8,895.1 L277.2,896.6 L277.6,891.7 L278.0,877.5 L278.4,855.4 L278.8,827.6 L279.2,796.8 L279.6,766.0 L280.0,738.1 L280.4,716.1 L280.8,701.9 L281.2,697.0 L281.3,670.4 L281.4,643.9 L281.5,661.4 L281.7,679.0 L282.1,678.2 L282.5,675.8 L282.9,671.8 L283.4,666.4 L283.8,659.9 L284.2,652.5 L284.6,644.4 L285.0,636.0 L285.4,627.6 L285.8,619.6 L286.2,612.1 L286.6,605.6 L287.1,600.3 L287.5,596.3 L287.9,593.8 L288.3,593.0 L288.9,595.9 L289.5,598.7 L290.0,596.6 L290.5,592.4 L291.0,590.3 L291.4,592.2 L291.8,597.8 L292.2,606.9 L292.6,619.1 L293.0,633.9 L293.4,650.9 L293.8,669.3 L294.2,688.4 L294.7,707.5 L295.1,725.9 L295.5,742.9 L295.9,757.7 L296.3,769.9 L296.7,779.0 L297.1,784.6 L297.5,786.5 L297.9,785.7 L298.3,783.5 L298.7,779.9 L299.1,774.9 L299.5,768.5 L299.9,761.0 L300.4,752.3 L300.8,742.6 L301.2,732.0 L301.6,720.7 L302.0,708.8 L302.4,696.4 L302.8,683.8 L303.2,671.2 L303.6,658.6 L304.0,646.2 L304.4,634.3 L304.8,623.0 L305.2,612.4 L305.6,602.7 L306.1,594.0 L306.5,586.5 L306.9,580.1 L307.3,575.1 L307.7,571.5 L308.1,569.3 L308.5,568.5 L309.0,576.0 L309.5,583.4 L309.9,582.7 L310.3,580.8 L310.7,578.4 L311.1,576.5 L311.5,575.8 L311.9,577.3 L312.3,581.7 L312.7,589.0 L313.1,599.0 L313.5,611.4 L313.9,625.8 L314.3,642.1 L314.7,659.7 L315.1,678.2 L315.5,697.2 L315.9,716.2 L316.3,734.7 L316.7,752.3 L317.1,768.5 L317.5,783.0 L317.9,795.4 L318.3,805.4 L318.7,812.6 L319.1,817.1 L319.5,818.6 L319.9,814.9 L320.3,804.3 L320.8,787.1 L321.2,764.6 L321.6,737.9 L322.0,708.6 L322.5,678.5 L322.9,649.2 L323.3,622.5 L323.7,600.0 L324.2,582.9 L324.6,572.2 L325.0,568.5 L325.5,579.8 L326.0,591.1 L326.5,590.3 L326.9,588.2 L327.4,585.1 L327.8,581.7 L328.3,578.7 L328.7,576.6 L329.2,575.8 L329.6,576.7 L330.0,579.3 L330.4,583.5 L330.8,589.4 L331.2,596.8 L331.6,605.7 L332.1,615.9 L332.5,627.2 L332.9,639.4 L333.3,652.5 L333.7,666.2 L334.1,680.4 L334.5,694.7 L334.9,709.0 L335.3,723.2 L335.7,736.9 L336.1,750.0 L336.5,762.3 L336.9,773.6 L337.4,783.7 L337.8,792.6 L338.2,800.0 L338.6,805.9 L339.0,810.2 L339.4,812.7 L339.8,813.6 L340.2,812.1 L340.6,807.5 L341.1,800.1 L341.5,790.0 L341.9,777.6 L342.3,763.2 L342.8,747.3 L343.2,730.4 L343.6,712.9 L344.0,695.4 L344.4,678.4 L344.9,662.5 L345.3,648.1 L345.7,635.7 L346.1,625.6 L346.6,618.2 L347.0,613.7 L347.4,612.1 L347.8,611.9 L348.2,611.3 L348.7,610.4 L349.1,609.1 L349.5,607.7 L349.9,606.1 L350.4,604.4 L350.8,602.8 L351.2,601.3 L351.6,600.1 L352.1,599.1 L352.5,598.6 L352.9,598.4 L353.3,599.8 L353.7,604.1 L354.1,611.2 L354.5,620.9 L355.0,632.8 L355.4,646.7 L355.8,662.2 L356.2,678.8 L356.6,696.2 L357.0,713.8 L357.4,731.2 L357.8,747.9 L358.2,763.4 L358.6,777.3 L359.1,789.2 L359.5,798.8 L359.9,805.9 L360.3,810.2 L360.7,811.7 L361.1,810.4 L361.5,806.6 L361.9,800.2 L362.3,791.7 L362.8,781.0 L363.2,768.7 L363.6,754.9 L364.0,740.0 L364.4,724.5 L364.8,708.8 L365.2,693.4 L365.6,678.5 L366.0,664.7 L366.4,652.3 L366.9,641.7 L367.3,633.1 L367.7,626.8 L368.1,623.0 L368.5,621.7 L368.9,619.9 L369.3,614.9 L369.8,608.1 L370.2,601.3 L370.6,596.4 L371.0,594.5 L371.4,595.2 L371.8,597.0 L372.2,599.8 L372.6,603.2 L373.1,606.9 L373.5,610.3 L373.9,613.1 L374.3,614.9 L374.7,615.6 L375.1,617.4 L375.5,622.7 L375.9,631.3 L376.3,642.8 L376.7,656.7 L377.1,672.4 L377.5,689.2 L378.0,706.4 L378.4,723.2 L378.8,738.9 L379.2,752.8 L379.6,764.3 L380.0,772.9 L380.4,778.2 L380.8,780.0 L381.2,779.6 L381.6,778.5 L382.0,776.7 L382.4,774.2 L382.8,771.0 L383.2,767.2 L383.6,762.8 L384.0,757.8 L384.4,752.3 L384.8,746.4 L385.2,740.1 L385.6,733.4 L386.0,726.5 L386.4,719.5 L386.8,712.3 L387.3,705.0 L387.7,697.9 L388.1,690.8 L388.5,683.9 L388.9,677.3 L389.3,670.9 L389.7,665.0 L390.1,659.5 L390.5,654.6 L390.9,650.1 L391.3,646.3 L391.7,643.1 L392.1,640.6 L392.5,638.8 L392.9,637.7 L393.3,637.4 L393.7,637.9 L394.1,639.5 L394.6,642.1 L395.0,645.7 L395.4,650.2 L395.8,655.6 L396.2,661.6 L396.6,668.2 L397.1,675.3 L397.5,682.6 L397.9,690.1 L398.3,697.6 L398.7,705.0 L399.2,712.0 L399.6,718.6 L400.0,724.7 L400.4,730.0 L400.8,734.5 L401.2,738.1 L401.7,740.7 L402.1,742.3 L402.5,742.9 L402.9,741.5 L403.3,737.5 L403.7,731.7 L404.1,725.4 L404.5,719.6 L404.9,715.6 L405.3,714.2 L405.7,713.7 L406.1,712.3 L406.5,709.9 L407.0,706.7 L407.4,702.7 L407.8,698.0 L408.2,692.7 L408.6,686.9 L409.0,680.8 L409.4,674.4 L409.9,668.0 L410.3,661.6 L410.7,655.5 L411.1,649.7 L411.5,644.4 L411.9,639.7 L412.3,635.7 L412.8,632.4 L413.2,630.1 L413.6,628.7 L414.0,628.2 L414.4,629.6 L414.8,633.6 L415.3,640.2 L415.7,649.2 L416.1,660.2 L416.5,672.8 L417.0,686.6 L417.4,701.2 L417.8,716.1 L418.2,730.7 L418.7,744.5 L419.1,757.2 L419.5,768.1 L419.9,777.1 L420.4,783.7 L420.8,787.8 L421.2,789.1 L421.6,788.5 L422.0,786.5 L422.4,783.3 L422.8,778.8 L423.3,773.1 L423.7,766.3 L424.1,758.5 L424.5,749.8 L424.9,740.3 L425.3,730.1 L425.7,719.5 L426.1,708.4 L426.5,697.1 L427.0,685.8 L427.4,674.5 L427.8,663.4 L428.2,652.8 L428.6,642.6 L429.0,633.1 L429.4,624.4 L429.8,616.6 L430.2,609.8 L430.7,604.2 L431.1,599.7 L431.5,596.4 L431.9,594.4 L432.3,593.8 L432.7,594.7 L433.1,597.6 L433.5,602.3 L433.9,608.8 L434.3,616.9 L434.7,626.6 L435.1,637.6 L435.5,649.8 L435.9,662.9 L436.3,676.8 L436.7,691.2 L437.1,705.8 L437.6,720.4 L438.0,734.8 L438.4,748.7 L438.8,761.8 L439.2,774.0 L439.6,785.0 L440.0,794.7 L440.4,802.8 L440.8,809.3 L441.2,814.0 L441.6,816.9 L442.0,817.8 L442.4,817.2 L442.8,815.2 L443.2,812.0 L443.6,807.5 L444.0,801.8 L444.4,795.0 L444.8,787.1 L445.2,778.3 L445.6,768.7 L446.0,758.3 L446.4,747.3 L446.8,735.8 L447.2,723.9 L447.6,711.9 L448.1,699.7 L448.5,687.7 L448.9,675.8 L449.3,664.3 L449.7,653.3 L450.1,642.9 L450.5,633.3 L450.9,624.5 L451.3,616.6 L451.7,609.8 L452.1,604.1 L452.5,599.6 L452.9,596.4 L453.3,594.4 L453.7,593.8 L454.1,594.9 L454.5,598.4 L454.9,604.0 L455.3,611.8 L455.7,621.6 L456.2,633.0 L456.6,646.0 L457.0,660.3 L457.4,675.5 L457.8,691.3 L458.2,707.5 L458.6,723.7 L459.0,739.6 L459.4,754.8 L459.8,769.0 L460.2,782.0 L460.7,793.5 L461.1,803.2 L461.5,811.0 L461.9,816.7 L462.3,820.1 L462.7,821.3 L463.1,820.6 L463.5,818.7 L463.9,815.5 L464.3,811.1 L464.8,805.5 L465.2,798.8 L465.6,791.1 L466.0,782.5 L466.4,773.0 L466.8,762.8 L467.2,752.0 L467.6,740.7 L468.0,729.1 L468.4,717.3 L468.9,705.4 L469.3,693.6 L469.7,681.9 L470.1,670.7 L470.5,659.8 L470.9,649.7 L471.3,640.2 L471.7,631.5 L472.1,623.8 L472.5,617.2 L473.0,611.6 L473.4,607.2 L473.8,604.0 L474.2,602.1 L474.6,601.4 L475.0,602.3 L475.4,605.0 L475.8,609.5 L476.3,615.7 L476.7,623.5 L477.1,632.7 L477.5,643.3 L477.9,655.0 L478.3,667.7 L478.8,681.2 L479.2,695.2 L479.6,709.6 L480.0,724.1 L480.4,738.5 L480.8,752.6 L481.3,766.0 L481.7,778.8 L482.1,790.5 L482.5,801.1 L482.9,810.3 L483.3,818.1 L483.8,824.2 L484.2,828.7 L484.6,831.4 L485.0,832.3 L485.4,831.4 L485.8,828.8 L486.2,824.3 L486.6,818.2 L487.0,810.5 L487.4,801.2 L487.8,790.7 L488.2,778.9 L488.6,766.1 L489.0,752.5 L489.4,738.3 L489.8,723.6 L490.2,708.7 L490.7,693.8 L491.1,679.1 L491.5,664.8 L491.9,651.2 L492.3,638.4 L492.7,626.6 L493.1,616.1 L493.5,606.9 L493.9,599.1 L494.3,593.0 L494.7,588.6 L495.1,585.9 L495.5,585.0 L495.9,586.2 L496.3,589.9 L496.8,596.0 L497.2,604.3 L497.6,614.7 L498.0,626.9 L498.4,640.8 L498.8,656.1 L499.3,672.3 L499.7,689.3 L500.1,706.6 L500.5,723.9 L500.9,740.8 L501.4,757.1 L501.8,772.3 L502.2,786.2 L502.6,798.4 L503.0,808.8 L503.4,817.2 L503.9,823.2 L504.3,826.9 L504.7,828.1 L505.1,827.4 L505.5,825.4 L505.9,821.9 L506.3,817.2 L506.7,811.2 L507.1,804.0 L507.5,795.7 L507.9,786.3 L508.3,776.1 L508.7,765.1 L509.1,753.5 L509.5,741.3 L509.9,728.8 L510.3,716.0 L510.8,703.2 L511.2,690.4 L511.6,677.9 L512.0,665.7 L512.4,654.1 L512.8,643.1 L513.2,632.9 L513.6,623.6 L514.0,615.3 L514.4,608.1 L514.8,602.0 L515.2,597.3 L515.6,593.9 L516.0,591.8 L516.4,591.1 L516.8,592.7 L517.2,597.5 L517.6,605.4 L518.0,616.1 L518.4,629.5 L518.8,645.2 L519.2,662.7 L519.6,681.7 L520.0,701.7 L520.5,722.2 L520.9,742.7 L521.3,762.8 L521.7,781.8 L522.1,799.3 L522.5,815.0 L522.9,828.3 L523.3,839.1 L523.7,847.0 L524.1,851.8 L524.5,853.4 L524.9,852.1 L525.3,848.1 L525.7,841.7 L526.1,832.9 L526.5,821.9 L526.9,809.0 L527.3,794.5 L527.7,778.6 L528.1,761.8 L528.5,744.4 L529.0,726.8 L529.4,709.4 L529.8,692.6 L530.2,676.7 L530.6,662.2 L531.0,649.3 L531.4,638.3 L531.8,629.5 L532.2,623.1 L532.6,619.2 L533.0,617.9 L533.4,616.9 L533.9,614.0 L534.3,609.8 L534.7,604.9 L535.1,599.9 L535.5,595.7 L536.0,592.8 L536.4,591.9 L536.8,592.7 L537.2,595.1 L537.6,599.2 L538.0,604.8 L538.4,611.9 L538.8,620.4 L539.2,630.2 L539.6,641.1 L540.0,653.0 L540.4,665.9 L540.8,679.4 L541.2,693.5 L541.6,708.0 L542.0,722.6 L542.4,737.3 L542.8,751.7 L543.2,765.8 L543.6,779.3 L544.0,792.2 L544.4,804.1 L544.8,815.1 L545.2,824.8 L545.6,833.3 L546.0,840.4 L546.4,846.0 L546.8,850.1 L547.2,852.6 L547.6,853.4 L548.0,852.4 L548.4,849.6 L548.8,845.0 L549.2,838.5 L549.7,830.4 L550.1,820.7 L550.5,809.6 L550.9,797.2 L551.3,783.6 L551.7,769.1 L552.1,753.8 L552.5,738.1 L552.9,721.9 L553.4,705.7 L553.8,689.6 L554.2,673.8 L554.6,658.5 L555.0,644.0 L555.4,630.5 L555.8,618.1 L556.2,606.9 L556.6,597.2 L557.1,589.1 L557.5,582.7 L557.9,578.0 L558.3,575.2 L558.7,574.3 L559.1,575.4 L559.5,578.8 L559.9,584.5 L560.3,592.2 L560.7,602.0 L561.2,613.5 L561.6,626.7 L562.0,641.3 L562.4,657.0 L562.8,673.6 L563.2,690.8 L563.6,708.3 L564.0,725.8 L564.4,743.0 L564.8,759.6 L565.2,775.3 L565.6,789.9 L566.0,803.0 L566.5,814.6 L566.9,824.3 L567.3,832.1 L567.7,837.7 L568.1,841.1 L568.5,842.3 L568.9,841.2 L569.3,838.1 L569.7,832.9 L570.1,825.7 L570.5,816.7 L570.9,806.0 L571.3,793.7 L571.7,780.1 L572.1,765.3 L572.5,749.7 L572.9,733.4 L573.3,716.7 L573.7,699.9 L574.1,683.2 L574.5,666.9 L574.9,651.2 L575.3,636.5 L575.7,622.9 L576.1,610.6 L576.5,599.9 L576.9,590.8 L577.3,583.7 L577.7,578.5 L578.1,575.3 L578.5,574.3 L578.9,575.1 L579.3,577.6 L579.7,581.8 L580.1,587.6 L580.5,594.9 L580.9,603.6 L581.3,613.7 L581.7,624.9 L582.1,637.3 L582.5,650.5 L582.9,664.4 L583.3,678.9 L583.7,693.8 L584.1,708.9 L584.5,723.9 L584.9,738.8 L585.3,753.3 L585.7,767.2 L586.1,780.5 L586.5,792.8 L586.9,804.0 L587.3,814.1 L587.7,822.8 L588.1,830.1 L588.5,835.9 L588.9,840.1 L589.3,842.6 L589.7,843.4 L590.1,842.8 L590.5,840.9 L590.9,837.7 L591.3,833.2 L591.7,827.6 L592.1,820.9 L592.5,813.1 L592.9,804.3 L593.3,794.6 L593.7,784.2 L594.1,773.0 L594.5,761.3 L594.9,749.2 L595.3,736.7 L595.7,724.0 L596.2,711.3 L596.6,698.6 L597.0,686.1 L597.4,674.0 L597.8,662.2 L598.2,651.1 L598.6,640.7 L599.0,631.0 L599.4,622.2 L599.8,614.4 L600.2,607.7 L600.6,602.1 L601.0,597.6 L601.4,594.4 L601.8,592.5 L602.2,591.9 L602.6,593.3 L603.0,597.7 L603.4,604.8 L603.8,614.6 L604.2,626.8 L604.6,641.3 L605.0,657.6 L605.4,675.6 L605.8,694.7 L606.2,714.7 L606.7,735.0 L607.1,755.4 L607.5,775.4 L607.9,794.5 L608.3,812.5 L608.7,828.8 L609.1,843.3 L609.5,855.5 L609.9,865.3 L610.3,872.4 L610.7,876.8 L611.1,878.2 L611.5,876.9 L611.9,873.1 L612.3,866.8 L612.7,858.2 L613.1,847.4 L613.5,834.6 L613.9,820.2 L614.3,804.4 L614.7,787.5 L615.1,769.8 L615.5,751.9 L616.0,733.9 L616.4,716.3 L616.8,699.4 L617.2,683.5 L617.6,669.1 L618.0,656.4 L618.4,645.6 L618.8,636.9 L619.2,630.6 L619.6,626.8 L620.0,625.5 L620.5,624.5 L620.9,621.6 L621.4,617.7 L621.9,613.7 L622.3,610.9 L622.8,609.8 L623.2,611.2 L623.6,615.2 L624.0,621.9 L624.4,631.0 L624.8,642.3 L625.3,655.7 L625.7,670.7 L626.1,687.1 L626.5,704.5 L626.9,722.5 L627.3,740.7 L627.7,758.7 L628.1,776.1 L628.5,792.5 L628.9,807.5 L629.4,820.9 L629.8,832.2 L630.2,841.3 L630.6,848.0 L631.0,852.0 L631.4,853.4 L631.8,851.6 L632.2,846.4 L632.6,838.1 L633.0,826.9 L633.4,813.3 L633.8,798.0 L634.2,781.6 L634.6,764.9 L635.0,748.5 L635.4,733.2 L635.8,719.7 L636.2,708.5 L636.6,700.1 L637.0,694.9 L637.4,693.2" fill="none" stroke="#3030ff" stroke-width="2.4" stroke-linejoin="round" clip-path="url(#c140374390627008)"/><clipPath id="c140374334382080"><rect x="775.8" y="459.1" width="437.20000000000005" height="460.79999999999995"/></clipPath><path d="M776.5,688.4 L776.9,688.2 L777.3,687.7 L777.7,686.8 L778.1,685.8 L778.5,684.6 L778.9,683.4 L779.3,682.4 L779.7,681.5 L780.1,681.0 L780.5,680.8 L780.9,680.9 L781.3,681.0 L781.7,681.4 L782.1,681.8 L782.6,682.3 L783.0,682.9 L783.4,683.6 L783.8,684.4 L784.2,685.3 L784.6,686.2 L785.0,687.2 L785.4,688.2 L785.9,689.1 L786.3,690.1 L786.7,691.1 L787.1,692.0 L787.5,692.9 L787.9,693.7 L788.3,694.4 L788.7,695.0 L789.2,695.5 L789.6,695.9 L790.0,696.3 L790.4,696.4 L790.8,696.5 L791.2,696.4 L791.6,696.1 L792.0,695.6 L792.4,694.8 L792.8,694.0 L793.2,692.9 L793.6,691.8 L794.0,690.6 L794.4,689.3 L794.8,688.0 L795.2,686.7 L795.6,685.5 L796.0,684.4 L796.4,683.3 L796.8,682.5 L797.2,681.7 L797.6,681.2 L798.0,680.9 L798.4,680.8 L798.8,680.9 L799.2,681.0 L799.7,681.3 L800.1,681.4 L800.5,681.5 L801.0,681.2 L801.4,680.5 L801.9,679.5 L802.4,678.5 L802.8,677.8 L803.3,677.5 L803.7,677.6 L804.1,678.0 L804.5,678.5 L804.9,679.3 L805.3,680.2 L805.7,681.4 L806.1,682.6 L806.5,684.0 L806.9,685.5 L807.3,687.0 L807.8,688.6 L808.2,690.1 L808.6,691.6 L809.0,693.0 L809.4,694.2 L809.8,695.4 L810.2,696.3 L810.6,697.1 L811.0,697.6 L811.4,698.0 L811.8,698.1 L812.2,698.0 L812.6,697.9 L813.0,697.6 L813.4,697.1 L813.8,696.6 L814.2,696.0 L814.6,695.3 L815.0,694.5 L815.4,693.6 L815.8,692.7 L816.2,691.7 L816.6,690.8 L817.0,689.8 L817.4,688.7 L817.8,687.8 L818.2,686.8 L818.6,685.9 L819.0,685.0 L819.4,684.2 L819.8,683.5 L820.2,682.9 L820.6,682.4 L821.0,681.9 L821.4,681.6 L821.8,681.5 L822.2,681.4 L822.6,681.5 L823.0,681.7 L823.4,682.1 L823.8,682.6 L824.2,683.3 L824.7,684.1 L825.1,684.9 L825.5,685.9 L825.9,687.0 L826.3,688.1 L826.7,689.2 L827.1,690.3 L827.5,691.4 L827.9,692.5 L828.3,693.6 L828.7,694.6 L829.1,695.4 L829.6,696.2 L830.0,696.9 L830.4,697.4 L830.8,697.8 L831.2,698.0 L831.6,698.1 L832.0,698.0 L832.4,697.8 L832.8,697.3 L833.2,696.8 L833.6,696.0 L834.1,695.2 L834.5,694.2 L834.9,693.2 L835.3,692.0 L835.7,690.8 L836.1,689.6 L836.5,688.3 L836.9,687.1 L837.3,685.9 L837.7,684.7 L838.1,683.7 L838.5,682.7 L839.0,681.9 L839.4,681.1 L839.8,680.6 L840.2,680.1 L840.6,679.9 L841.0,679.8 L841.4,679.8 L841.8,680.0 L842.2,680.2 L842.6,680.6 L843.0,681.0 L843.4,681.5 L843.8,682.0 L844.2,682.7 L844.6,683.3 L845.0,684.1 L845.4,684.9 L845.8,685.7 L846.2,686.5 L846.7,687.3 L847.1,688.1 L847.5,688.9 L847.9,689.7 L848.3,690.4 L848.7,691.1 L849.1,691.8 L849.5,692.3 L849.9,692.8 L850.3,693.2 L850.7,693.6 L851.1,693.8 L851.5,694.0 L851.9,694.0 L852.3,694.0 L852.7,693.9 L853.1,693.7 L853.5,693.4 L853.9,693.2 L854.3,692.8 L854.7,692.4 L855.1,691.9 L855.5,691.4 L855.9,690.9 L856.3,690.4 L856.7,689.8 L857.2,689.3 L857.6,688.7 L858.0,688.2 L858.4,687.7 L858.8,687.2 L859.2,686.7 L859.6,686.3 L860.0,685.9 L860.4,685.7 L860.8,685.4 L861.2,685.2 L861.6,685.1 L862.0,685.1 L862.4,685.1 L862.8,685.2 L863.2,685.4 L863.6,685.7 L864.0,686.0 L864.4,686.4 L864.9,686.8 L865.3,687.3 L865.7,687.8 L866.1,688.3 L866.5,688.9 L866.9,689.5 L867.3,690.0 L867.7,690.6 L868.1,691.2 L868.5,691.7 L868.9,692.2 L869.3,692.7 L869.8,693.1 L870.2,693.5 L870.6,693.8 L871.0,694.1 L871.4,694.3 L871.8,694.4 L872.2,694.4 L872.6,694.4 L873.0,694.3 L873.4,694.1 L873.8,693.8 L874.2,693.5 L874.6,693.1 L875.0,692.7 L875.4,692.2 L875.8,691.7 L876.2,691.2 L876.6,690.6 L877.0,690.0 L877.4,689.5 L877.8,688.9 L878.2,688.3 L878.6,687.8 L879.0,687.3 L879.4,686.8 L879.8,686.4 L880.2,686.0 L880.6,685.7 L881.0,685.4 L881.4,685.2 L881.8,685.1 L882.2,685.1 L882.6,685.1 L883.0,685.3 L883.4,685.5 L883.9,685.8 L884.3,686.2 L884.7,686.7 L885.1,687.2 L885.5,687.7 L885.9,688.4 L886.3,689.0 L886.7,689.7 L887.2,690.3 L887.6,691.0 L888.0,691.6 L888.4,692.3 L888.8,692.8 L889.2,693.3 L889.6,693.8 L890.0,694.2 L890.5,694.5 L890.9,694.7 L891.3,694.9 L891.7,694.9 L892.1,694.8 L892.5,694.7 L892.9,694.4 L893.3,694.1 L893.7,693.6 L894.1,693.1 L894.5,692.5 L894.9,691.8 L895.3,691.1 L895.8,690.5 L896.2,689.8 L896.6,689.1 L897.0,688.4 L897.4,687.8 L897.8,687.3 L898.2,686.8 L898.6,686.5 L899.0,686.2 L899.4,686.1 L899.8,686.0 L900.2,686.1 L900.6,686.2 L901.0,686.4 L901.4,686.8 L901.8,687.1 L902.2,687.6 L902.6,688.0 L903.0,688.4 L903.4,688.9 L903.8,689.2 L904.2,689.6 L904.6,689.8 L905.0,689.9 L905.4,690.0 L905.8,690.0 L906.2,690.2 L906.6,690.4 L907.0,690.6 L907.4,690.9 L907.8,691.2 L908.3,691.5 L908.7,691.8 L909.1,692.0 L909.5,692.2 L909.9,692.4 L910.3,692.4 L910.7,692.4 L911.1,692.3 L911.5,692.2 L911.9,692.1 L912.3,691.9 L912.7,691.7 L913.2,691.5 L913.6,691.2 L914.0,690.9 L914.4,690.6 L914.8,690.3 L915.2,689.9 L915.6,689.6 L916.0,689.3 L916.4,688.9 L916.8,688.6 L917.2,688.3 L917.6,688.0 L918.0,687.7 L918.5,687.5 L918.9,687.3 L919.3,687.1 L919.7,687.0 L920.1,686.9 L920.5,686.8 L920.9,686.8 L921.3,686.8 L921.7,686.9 L922.1,687.0 L922.5,687.2 L922.9,687.4 L923.3,687.7 L923.7,688.0 L924.1,688.3 L924.5,688.6 L924.9,689.0 L925.3,689.4 L925.7,689.8 L926.1,690.2 L926.6,690.7 L927.0,691.1 L927.4,691.5 L927.8,691.9 L928.2,692.2 L928.6,692.5 L929.0,692.8 L929.4,693.1 L929.8,693.3 L930.2,693.5 L930.6,693.6 L931.0,693.7 L931.4,693.7 L931.8,693.7 L932.2,693.5 L932.6,693.3 L933.0,692.9 L933.4,692.5 L933.8,692.0 L934.2,691.5 L934.6,690.9 L935.0,690.3 L935.5,689.7 L935.9,689.0 L936.3,688.4 L936.7,687.8 L937.1,687.3 L937.5,686.8 L937.9,686.4 L938.3,686.0 L938.7,685.8 L939.1,685.6 L939.5,685.6 L939.9,685.7 L940.3,685.9 L940.7,686.3 L941.1,686.8 L941.5,687.4 L941.9,688.2 L942.3,689.0 L942.7,689.9 L943.1,690.9 L943.5,691.9 L944.0,692.8 L944.4,693.8 L944.8,694.7 L945.2,695.5 L945.6,696.3 L946.0,696.9 L946.4,697.4 L946.8,697.8 L947.2,698.0 L947.6,698.1 L948.0,698.0 L948.4,697.8 L948.8,697.5 L949.2,697.0 L949.6,696.4 L950.0,695.7 L950.4,694.8 L950.8,693.9 L951.2,692.9 L951.6,691.9 L952.0,690.8 L952.5,689.8 L952.9,688.7 L953.3,687.6 L953.7,686.6 L954.1,685.6 L954.5,684.7 L954.9,683.8 L955.3,683.1 L955.7,682.5 L956.1,682.0 L956.5,681.7 L956.9,681.5 L957.3,681.4 L957.7,681.5 L958.1,681.7 L958.5,682.0 L958.9,682.5 L959.3,683.1 L959.8,683.8 L960.2,684.7 L960.6,685.6 L961.0,686.6 L961.4,687.6 L961.8,688.7 L962.2,689.8 L962.6,690.8 L963.0,691.9 L963.4,692.9 L963.8,693.9 L964.2,694.8 L964.6,695.7 L965.1,696.4 L965.5,697.0 L965.9,697.5 L966.3,697.8 L966.7,698.0 L967.1,698.1 L967.5,698.0 L967.9,697.9 L968.3,697.6 L968.7,697.2 L969.1,696.7 L969.5,696.1 L969.9,695.5 L970.3,694.7 L970.7,694.0 L971.2,693.2 L971.6,692.5 L972.0,691.8 L972.4,691.0 L972.8,690.4 L973.2,689.8 L973.6,689.3 L974.0,688.9 L974.4,688.6 L974.8,688.5 L975.2,688.4 L975.6,688.4 L976.0,688.5 L976.4,688.7 L976.8,688.9 L977.2,689.2 L977.6,689.5 L978.0,689.8 L978.4,690.2 L978.8,690.7 L979.2,691.1 L979.6,691.6 L980.0,692.0 L980.5,692.5 L980.9,693.0 L981.3,693.4 L981.7,693.9 L982.1,694.3 L982.5,694.6 L982.9,694.9 L983.3,695.2 L983.7,695.4 L984.1,695.6 L984.5,695.7 L984.9,695.7 L985.3,695.6 L985.7,695.5 L986.1,695.3 L986.5,694.9 L986.9,694.5 L987.3,694.0 L987.7,693.4 L988.1,692.8 L988.5,692.1 L988.9,691.3 L989.3,690.5 L989.7,689.7 L990.1,689.0 L990.5,688.2 L990.9,687.4 L991.3,686.6 L991.7,685.9 L992.1,685.3 L992.5,684.7 L992.9,684.2 L993.3,683.8 L993.7,683.4 L994.1,683.2 L994.5,683.1 L994.9,683.0 L995.3,683.1 L995.7,683.4 L996.1,684.0 L996.5,684.7 L996.9,685.6 L997.3,686.6 L997.7,687.8 L998.1,689.1 L998.5,690.4 L999.0,691.8 L999.4,693.2 L999.8,694.5 L1000.2,695.8 L1000.6,697.0 L1001.0,698.0 L1001.4,698.9 L1001.8,699.6 L1002.2,700.2 L1002.6,700.5 L1003.0,700.6 L1003.4,700.5 L1003.8,700.3 L1004.2,699.9 L1004.6,699.4 L1005.0,698.7 L1005.5,697.9 L1005.9,697.0 L1006.3,696.0 L1006.7,694.9 L1007.1,693.8 L1007.5,692.6 L1007.9,691.5 L1008.3,690.3 L1008.7,689.2 L1009.1,688.1 L1009.5,687.1 L1009.9,686.2 L1010.4,685.4 L1010.8,684.7 L1011.2,684.2 L1011.6,683.8 L1012.0,683.6 L1012.4,683.5 L1012.8,683.6 L1013.2,683.7 L1013.6,684.0 L1014.0,684.4 L1014.4,685.0 L1014.8,685.6 L1015.2,686.3 L1015.6,687.0 L1016.0,687.9 L1016.4,688.7 L1016.8,689.6 L1017.2,690.5 L1017.7,691.5 L1018.1,692.4 L1018.5,693.2 L1018.9,694.1 L1019.3,694.8 L1019.7,695.5 L1020.1,696.1 L1020.5,696.7 L1020.9,697.1 L1021.3,697.4 L1021.7,697.5 L1022.1,697.6 L1022.5,697.5 L1022.9,697.4 L1023.3,697.1 L1023.7,696.7 L1024.1,696.2 L1024.5,695.6 L1024.9,695.0 L1025.3,694.2 L1025.7,693.4 L1026.1,692.6 L1026.5,691.8 L1027.0,690.9 L1027.4,690.1 L1027.8,689.3 L1028.2,688.5 L1028.6,687.7 L1029.0,687.1 L1029.4,686.5 L1029.8,686.0 L1030.2,685.6 L1030.6,685.3 L1031.0,685.2 L1031.4,685.1 L1031.8,685.2 L1032.2,685.3 L1032.6,685.6 L1033.0,686.0 L1033.4,686.5 L1033.9,687.1 L1034.3,687.8 L1034.7,688.5 L1035.1,689.2 L1035.5,690.0 L1035.9,690.8 L1036.3,691.6 L1036.7,692.3 L1037.1,693.1 L1037.5,693.7 L1038.0,694.3 L1038.4,694.8 L1038.8,695.2 L1039.2,695.5 L1039.6,695.6 L1040.0,695.7 L1040.4,695.7 L1040.8,695.5 L1041.2,695.3 L1041.6,695.0 L1042.1,694.7 L1042.5,694.3 L1042.9,693.8 L1043.3,693.2 L1043.7,692.7 L1044.1,692.0 L1044.5,691.4 L1044.9,690.7 L1045.4,690.1 L1045.8,689.4 L1046.2,688.8 L1046.6,688.1 L1047.0,687.6 L1047.4,687.0 L1047.8,686.5 L1048.2,686.1 L1048.7,685.8 L1049.1,685.5 L1049.5,685.3 L1049.9,685.1 L1050.3,685.1 L1050.7,685.1 L1051.1,685.2 L1051.5,685.4 L1051.9,685.6 L1052.4,685.8 L1052.8,686.1 L1053.2,686.5 L1053.6,686.9 L1054.0,687.3 L1054.4,687.8 L1054.8,688.3 L1055.2,688.8 L1055.6,689.3 L1056.1,689.8 L1056.5,690.3 L1056.9,690.8 L1057.3,691.3 L1057.7,691.8 L1058.1,692.2 L1058.5,692.6 L1058.9,693.0 L1059.3,693.3 L1059.8,693.5 L1060.2,693.7 L1060.6,693.9 L1061.0,694.0 L1061.4,694.0 L1061.8,694.0 L1062.2,693.9 L1062.6,693.9 L1063.0,693.8 L1063.4,693.6 L1063.8,693.5 L1064.2,693.3 L1064.6,693.0 L1065.1,692.8 L1065.5,692.6 L1065.9,692.3 L1066.3,692.0 L1066.7,691.7 L1067.1,691.3 L1067.5,691.0 L1067.9,690.7 L1068.3,690.3 L1068.7,690.0 L1069.1,689.6 L1069.5,689.3 L1069.9,689.0 L1070.3,688.6 L1070.7,688.3 L1071.1,688.0 L1071.5,687.7 L1071.9,687.5 L1072.4,687.3 L1072.8,687.0 L1073.2,686.8 L1073.6,686.7 L1074.0,686.5 L1074.4,686.4 L1074.8,686.4 L1075.2,686.3 L1075.6,686.3 L1076.0,686.3 L1076.4,686.4 L1076.8,686.5 L1077.2,686.7 L1077.6,686.9 L1078.0,687.2 L1078.4,687.5 L1078.8,687.9 L1079.2,688.3 L1079.6,688.7 L1080.0,689.2 L1080.4,689.6 L1080.8,690.1 L1081.2,690.6 L1081.6,691.1 L1082.1,691.7 L1082.5,692.2 L1082.9,692.7 L1083.3,693.2 L1083.7,693.6 L1084.1,694.1 L1084.5,694.5 L1084.9,694.9 L1085.3,695.3 L1085.7,695.6 L1086.1,695.9 L1086.5,696.1 L1086.9,696.3 L1087.3,696.4 L1087.7,696.5 L1088.1,696.5 L1088.5,696.4 L1088.9,696.3 L1089.3,696.0 L1089.7,695.6 L1090.1,695.0 L1090.6,694.4 L1091.0,693.8 L1091.4,693.0 L1091.8,692.3 L1092.2,691.5 L1092.6,690.6 L1093.0,689.8 L1093.4,689.1 L1093.8,688.3 L1094.2,687.7 L1094.7,687.1 L1095.1,686.5 L1095.5,686.1 L1095.9,685.8 L1096.3,685.7 L1096.7,685.6 L1097.1,685.6 L1097.5,685.7 L1097.9,685.9 L1098.3,686.2 L1098.7,686.5 L1099.2,686.8 L1099.6,687.2 L1100.0,687.7 L1100.4,688.2 L1100.8,688.7 L1101.2,689.3 L1101.6,689.8 L1102.0,690.3 L1102.4,690.9 L1102.8,691.4 L1103.2,691.9 L1103.6,692.4 L1104.0,692.8 L1104.5,693.1 L1104.9,693.4 L1105.3,693.7 L1105.7,693.9 L1106.1,694.0 L1106.5,694.0 L1106.9,693.9 L1107.3,693.8 L1107.7,693.5 L1108.1,693.0 L1108.5,692.5 L1108.9,691.9 L1109.3,691.3 L1109.7,690.5 L1110.1,689.8 L1110.5,689.0 L1111.0,688.2 L1111.4,687.5 L1111.8,686.7 L1112.2,686.1 L1112.6,685.5 L1113.0,685.0 L1113.4,684.5 L1113.8,684.2 L1114.2,684.1 L1114.6,684.0 L1115.0,684.1 L1115.4,684.2 L1115.8,684.6 L1116.2,685.0 L1116.6,685.5 L1117.0,686.1 L1117.4,686.9 L1117.8,687.6 L1118.2,688.5 L1118.6,689.4 L1119.0,690.3 L1119.4,691.3 L1119.9,692.3 L1120.3,693.2 L1120.7,694.1 L1121.1,695.0 L1121.5,695.7 L1121.9,696.5 L1122.3,697.1 L1122.7,697.6 L1123.1,698.0 L1123.5,698.4 L1123.9,698.5 L1124.3,698.6 L1124.7,698.5 L1125.1,698.4 L1125.5,698.1 L1125.9,697.8 L1126.3,697.3 L1126.7,696.8 L1127.1,696.2 L1127.5,695.5 L1127.9,694.7 L1128.3,693.9 L1128.7,693.1 L1129.1,692.3 L1129.6,691.4 L1130.0,690.6 L1130.4,689.8 L1130.8,689.0 L1131.2,688.2 L1131.6,687.5 L1132.0,686.9 L1132.4,686.4 L1132.8,685.9 L1133.2,685.6 L1133.6,685.3 L1134.0,685.2 L1134.4,685.1 L1134.8,685.1 L1135.2,685.3 L1135.6,685.5 L1136.0,685.8 L1136.4,686.2 L1136.8,686.6 L1137.2,687.1 L1137.6,687.7 L1138.0,688.3 L1138.4,688.9 L1138.8,689.6 L1139.2,690.2 L1139.7,690.9 L1140.1,691.6 L1140.5,692.2 L1140.9,692.8 L1141.3,693.4 L1141.7,693.9 L1142.1,694.3 L1142.5,694.7 L1142.9,695.0 L1143.3,695.2 L1143.7,695.4 L1144.1,695.4 L1144.5,695.4 L1144.9,695.3 L1145.3,695.2 L1145.7,695.1 L1146.1,694.9 L1146.5,694.7 L1147.0,694.4 L1147.4,694.2 L1147.8,693.9 L1148.2,693.5 L1148.6,693.2 L1149.0,692.8 L1149.4,692.5 L1149.8,692.1 L1150.2,691.8 L1150.6,691.4 L1151.0,691.1 L1151.4,690.8 L1151.8,690.4 L1152.2,690.2 L1152.7,689.9 L1153.1,689.7 L1153.5,689.5 L1153.9,689.4 L1154.3,689.3 L1154.7,689.2 L1155.1,689.2 L1155.5,689.2 L1155.9,689.3 L1156.3,689.5 L1156.7,689.7 L1157.1,690.0 L1157.5,690.4 L1157.9,690.8 L1158.3,691.2 L1158.7,691.6 L1159.2,692.0 L1159.6,692.5 L1160.0,692.9 L1160.4,693.3 L1160.8,693.7 L1161.2,694.1 L1161.6,694.4 L1162.0,694.6 L1162.4,694.8 L1162.8,694.9 L1163.2,694.9 L1163.6,694.9 L1164.0,694.8 L1164.4,694.6 L1164.8,694.3 L1165.2,694.0 L1165.7,693.6 L1166.1,693.2 L1166.5,692.8 L1166.9,692.2 L1167.3,691.7 L1167.7,691.2 L1168.1,690.6 L1168.5,690.0 L1168.9,689.5 L1169.3,689.0 L1169.7,688.4 L1170.1,688.0 L1170.5,687.6 L1171.0,687.2 L1171.4,686.9 L1171.8,686.6 L1172.2,686.4 L1172.6,686.3 L1173.0,686.3 L1173.4,686.3 L1173.8,686.5 L1174.2,686.7 L1174.7,687.0 L1175.1,687.4 L1175.5,687.8 L1175.9,688.4 L1176.3,689.0 L1176.7,689.6 L1177.2,690.3 L1177.6,691.0 L1178.0,691.7 L1178.4,692.4 L1178.8,693.2 L1179.2,693.9 L1179.6,694.6 L1180.1,695.3 L1180.5,695.9 L1180.9,696.5 L1181.3,697.1 L1181.7,697.5 L1182.1,697.9 L1182.6,698.2 L1183.0,698.4 L1183.4,698.6 L1183.8,698.6 L1184.2,698.5 L1184.6,698.1 L1185.0,697.5 L1185.4,696.7 L1185.8,695.7 L1186.2,694.6 L1186.6,693.3 L1187.0,691.9 L1187.4,690.5 L1187.9,689.1 L1188.3,687.7 L1188.7,686.5 L1189.1,685.3 L1189.5,684.3 L1189.9,683.5 L1190.3,682.9 L1190.7,682.5 L1191.1,682.4 L1191.5,682.6 L1191.9,683.0 L1192.3,683.8 L1192.7,684.8 L1193.1,686.0 L1193.5,687.4 L1193.9,688.9 L1194.3,690.5 L1194.8,692.1 L1195.2,693.6 L1195.6,695.0 L1196.0,696.2 L1196.4,697.2 L1196.8,698.0 L1197.2,698.4 L1197.6,698.6 L1198.0,698.6 L1198.4,698.8 L1198.8,698.9 L1199.2,699.2 L1199.6,699.5 L1200.0,699.8 L1200.5,700.0 L1200.9,700.3 L1201.3,700.6 L1201.7,700.7 L1202.1,700.9 L1202.5,700.9 L1202.9,700.8 L1203.3,700.7 L1203.7,700.4 L1204.1,699.9 L1204.5,699.4 L1204.9,698.8 L1205.3,698.1 L1205.7,697.4 L1206.1,696.6 L1206.5,695.8 L1207.0,694.9 L1207.4,694.0 L1207.8,693.2 L1208.2,692.4 L1208.6,691.7 L1209.0,691.0 L1209.4,690.4 L1209.8,689.9 L1210.2,689.4 L1210.6,689.1 L1211.0,689.0 L1211.4,688.9 L1211.9,688.7 L1212.5,688.2 L1213.0,688.0" fill="none" stroke="#3030ff" stroke-width="2.4" stroke-linejoin="round" clip-path="url(#c140374334382080)"/><clipPath id="c140374334380992"><rect x="219.9" y="1035.0" width="417.6" height="460.70000000000005"/></clipPath><path d="M219.9,1477.6 L221.6,1488.1 L223.3,1475.1 L225.3,1495.0 L227.7,1481.0 L229.8,1494.9 L231.5,1476.4 L234.3,1494.3 L236.2,1474.1 L239.2,1488.9 L241.3,1470.0 L242.9,1485.7 L244.9,1479.7 L246.6,1492.1 L249.4,1479.3 L251.8,1488.2 L253.9,1475.0 L255.5,1495.0 L257.3,1473.4 L259.5,1492.0 L261.9,1476.1 L263.9,1486.4 L266.5,1478.5 L269.0,1489.6 L271.9,1472.9 L273.8,1484.2 L275.5,1476.5 L278.2,1493.9 L280.5,1480.9 L283.1,1486.8 L285.5,1471.2 L287.5,1487.6 L289.9,1474.6 L292.2,1485.9 L295.2,1475.9 L297.7,1495.0 L300.4,1473.8 L303.4,1486.1 L305.4,1476.9 L308.0,1495.4 L310.2,1479.4 L311.9,1495.0 L314.6,1479.9 L316.5,1491.1 L319.4,1480.5 L321.6,1489.3 L324.6,1466.0 L327.4,1489.0 L329.6,1472.0 L332.5,1480.1 L334.3,1479.2 L336.1,1490.4 L338.4,1475.2 L340.3,1492.6 L342.5,1477.3 L344.9,1483.5 L347.5,1475.9 L350.0,1476.3 L352.9,1459.0 L354.0,1480.4 L356.1,1413.1 L357.5,1449.8 L359.4,1495.7 L361.5,1442.2 L363.7,1437.6 L365.5,1404.0 L367.0,1266.3 L369.0,1178.3 L370.3,1266.3 L371.5,1419.2 L372.3,1477.4 L373.3,1365.7 L374.2,1404.0 L375.5,1439.1 L377.0,1445.2 L379.8,1481.9 L382.0,1465.1 L384.5,1453.7 L386.5,1471.2 L388.5,1453.7 L390.5,1477.4 L392.5,1457.5 L394.5,1483.5 L396.5,1479.4 L399.5,1463.7 L402.5,1491.7 L404.9,1482.0 L407.6,1495.1 L409.3,1480.9 L411.2,1492.2 L412.9,1483.1 L414.8,1494.7 L417.0,1482.8 L420.2,1489.4 L422.1,1480.5 L424.3,1491.9 L426.1,1474.3 L429.5,1490.9 L432.0,1482.2 L433.8,1492.2 L435.8,1474.5 L437.7,1495.5 L441.0,1477.6 L442.9,1490.1 L444.6,1477.6 L447.9,1486.8 L450.8,1480.4 L453.0,1494.4 L456.0,1482.4 L459.0,1493.2 L461.0,1480.3 L464.4,1489.2 L467.4,1480.3 L470.4,1494.0 L472.9,1483.8 L474.6,1495.5 L476.7,1484.5 L479.5,1488.5 L481.9,1479.4 L485.3,1490.4 L487.6,1487.8 L489.6,1494.6 L491.5,1485.5 L494.7,1491.1 L497.2,1485.4 L500.3,1495.2 L503.0,1484.0 L506.0,1491.6 L508.5,1488.0 L511.5,1493.9 L514.6,1483.6 L516.9,1493.5 L520.2,1485.0 L522.1,1495.0 L524.0,1484.0 L527.0,1494.9 L530.1,1483.6 L532.9,1493.8 L535.5,1488.3 L537.1,1490.4 L539.9,1486.1 L543.2,1493.3 L546.3,1484.4 L548.3,1494.3 L550.4,1487.6 L555.5,1486.5 L557.5,1477.4 L559.5,1481.9 L561.5,1468.2 L564.2,1455.2 L566.5,1477.4 L568.6,1489.6 L571.0,1478.9 L573.5,1478.9 L576.0,1486.5 L578.5,1492.6 L581.0,1494.2 L583.0,1494.7 L586.0,1490.5 L590.3,1494.4 L593.5,1488.4 L597.7,1494.2 L602.0,1488.8 L605.4,1493.8 L607.4,1489.1 L609.9,1495.7 L613.9,1490.3 L617.0,1493.0 L620.4,1489.6 L623.7,1493.7 L627.7,1490.6 L631.1,1494.8 L633.8,1487.6 L637.0,1493.6 L637.5,1489.6" fill="none" stroke="#3030ff" stroke-width="2.2" stroke-linejoin="round" clip-path="url(#c140374334380992)"/><clipPath id="c140374334380608"><rect x="795.4" y="1035.0" width="417.6" height="460.70000000000005"/></clipPath><path d="M795.4,1462.9 L796.2,1467.1 L796.9,1459.3 L797.6,1486.0 L798.4,1453.6 L799.2,1487.0 L799.8,1469.2 L800.7,1471.4 L801.2,1431.5 L802.2,1474.8 L802.9,1471.2 L803.5,1480.2 L804.0,1472.0 L804.6,1491.6 L805.3,1467.6 L806.2,1483.3 L807.0,1467.1 L807.8,1484.8 L808.4,1456.6 L809.3,1475.5 L810.2,1472.0 L810.8,1488.4 L811.3,1462.0 L812.0,1475.6 L812.6,1458.4 L813.5,1492.6 L814.1,1459.7 L814.8,1472.5 L815.5,1479.4 L816.3,1477.8 L816.9,1479.0 L817.6,1473.3 L818.4,1478.3 L819.0,1491.6 L819.5,1462.9 L820.1,1483.2 L820.8,1476.3 L821.7,1491.2 L822.4,1478.3 L823.1,1489.9 L823.8,1459.6 L824.6,1488.3 L825.5,1475.8 L826.2,1476.2 L827.0,1478.8 L827.9,1489.9 L828.5,1451.4 L829.2,1488.5 L829.7,1479.1 L830.5,1489.4 L831.3,1471.9 L832.0,1473.5 L832.7,1467.4 L833.6,1490.4 L834.1,1460.7 L835.0,1489.3 L835.6,1464.1 L836.5,1490.2 L837.4,1461.3 L838.2,1486.1 L838.8,1480.8 L839.7,1489.5 L840.5,1474.6 L841.4,1482.3 L842.0,1476.5 L842.8,1492.0 L843.4,1467.3 L844.3,1481.7 L844.9,1459.7 L845.5,1492.5 L846.2,1469.4 L846.7,1490.4 L847.4,1466.4 L847.9,1487.0 L848.8,1457.7 L849.6,1479.5 L850.4,1476.8 L850.9,1492.5 L851.8,1462.9 L852.7,1492.5 L853.5,1467.6 L854.3,1487.7 L855.3,1451.4 L856.0,1478.1 L856.9,1463.6 L857.8,1478.1 L858.7,1474.0 L859.5,1477.3 L860.4,1474.8 L861.2,1479.0 L862.0,1471.2 L862.7,1484.5 L863.4,1481.8 L864.2,1476.3 L865.1,1469.4 L865.8,1481.6 L866.6,1474.4 L867.4,1492.0 L868.3,1483.2 L869.0,1486.3 L869.6,1469.9 L870.4,1483.9 L871.3,1477.9 L871.8,1488.9 L872.6,1477.6 L873.2,1475.8 L874.0,1470.5 L874.9,1486.0 L875.7,1473.6 L876.4,1474.0 L877.3,1455.7 L877.9,1477.7 L878.6,1471.6 L879.3,1469.6 L880.2,1455.1 L881.1,1482.5 L881.7,1460.2 L882.3,1483.1 L883.0,1454.6 L883.7,1480.2 L884.6,1444.6 L885.3,1484.0 L885.8,1446.0 L886.3,1468.3 L887.1,1459.8 L888.0,1483.4 L888.5,1454.5 L889.0,1462.9 L889.6,1463.6 L890.2,1468.4 L890.9,1448.3 L891.6,1462.2 L892.6,1445.8 L893.2,1471.3 L893.8,1467.0 L894.5,1463.6 L895.0,1456.2 L895.7,1463.5 L896.4,1445.3 L897.3,1471.5 L898.1,1436.5 L898.7,1454.1 L899.5,1458.7 L900.2,1463.4 L901.1,1449.5 L901.9,1454.2 L902.7,1431.5 L903.4,1460.7 L904.0,1437.6 L904.9,1460.1 L905.7,1451.9 L906.6,1447.6 L907.6,1440.5 L908.4,1466.9 L909.3,1430.5 L910.0,1471.1 L910.7,1438.0 L911.5,1460.5 L912.0,1431.0 L912.6,1451.6 L913.1,1420.8 L914.0,1470.6 L914.6,1441.5 L915.4,1452.5 L916.2,1432.0 L916.9,1450.3 L917.5,1454.5 L918.2,1474.2 L919.0,1449.0 L919.8,1465.2 L920.5,1464.3 L921.2,1468.9 L922.1,1468.2 L923.0,1465.9 L923.7,1461.5 L924.3,1473.7 L925.0,1462.8 L925.5,1466.5 L926.3,1464.2 L927.1,1470.3 L927.9,1457.9 L928.4,1469.3 L929.1,1452.2 L930.0,1471.6 L930.7,1462.0 L931.4,1459.6 L932.3,1426.9 L932.9,1471.5 L933.7,1431.9 L934.3,1453.8 L934.8,1414.7 L935.4,1458.2 L936.0,1447.9 L936.8,1478.5 L937.6,1460.4 L938.4,1479.1 L939.0,1448.4 L939.7,1477.8 L940.3,1449.1 L940.9,1482.7 L941.7,1445.6 L942.4,1461.4 L943.2,1438.8 L943.8,1465.7 L944.7,1437.4 L945.3,1480.2 L946.2,1460.5 L947.2,1460.2 L947.7,1459.8 L948.6,1482.0 L949.1,1439.6 L949.8,1464.2 L950.4,1431.5 L951.2,1487.7 L951.8,1444.4 L952.7,1457.2 L953.2,1450.6 L954.1,1476.7 L954.9,1467.6 L955.4,1488.2 L955.9,1461.3 L956.7,1480.3 L957.2,1475.3 L957.8,1477.2 L958.8,1463.5 L959.3,1490.7 L960.2,1471.9 L961.1,1487.3 L961.8,1471.3 L962.5,1482.7 L963.0,1468.3 L963.9,1489.7 L964.6,1468.0 L965.3,1489.6 L965.8,1472.1 L966.3,1477.5 L967.2,1469.2 L968.1,1482.9 L968.8,1471.3 L969.5,1476.2 L970.4,1477.7 L971.3,1481.2 L972.1,1468.6 L972.8,1478.5 L973.7,1470.8 L974.5,1481.3 L975.2,1470.8 L975.8,1488.5 L976.5,1484.3 L977.1,1483.9 L977.9,1479.5 L978.8,1483.7 L979.5,1472.7 L980.2,1486.1 L980.9,1468.2 L981.7,1483.4 L982.5,1468.5 L983.1,1484.8 L983.9,1479.5 L984.6,1492.3 L985.2,1477.5 L985.7,1490.2 L986.6,1474.7 L987.3,1478.6 L988.1,1468.2 L988.9,1481.5 L989.4,1474.0 L990.3,1492.4 L991.2,1481.4 L991.9,1491.2 L992.6,1473.8 L993.1,1479.0 L993.8,1475.0 L994.6,1488.7 L995.2,1473.1 L996.0,1489.8 L996.8,1478.8 L997.3,1490.3 L997.8,1481.4 L998.7,1488.7 L999.6,1474.8 L1000.1,1481.3 L1001.0,1486.6 L1001.9,1490.8 L1002.6,1477.6 L1003.2,1489.8 L1004.2,1480.0 L1004.9,1484.4 L1005.7,1481.3 L1006.3,1488.7 L1007.0,1485.8 L1007.5,1489.8 L1008.1,1483.0 L1008.9,1490.5 L1009.5,1481.5 L1010.2,1486.9 L1010.9,1477.4 L1011.9,1487.4 L1012.5,1487.1 L1013.4,1486.8 L1014.1,1483.9 L1014.8,1488.0 L1015.5,1481.4 L1016.3,1487.2 L1016.9,1485.0 L1017.8,1483.3 L1018.7,1484.9 L1019.3,1488.2 L1019.9,1475.8 L1020.5,1483.5 L1021.0,1481.2 L1021.8,1483.2 L1022.6,1477.2 L1023.3,1486.3 L1024.0,1472.8 L1024.9,1487.1 L1025.4,1471.8 L1026.2,1479.8 L1026.8,1475.7 L1027.4,1479.0 L1028.1,1472.8 L1029.0,1484.4 L1029.8,1466.6 L1030.7,1483.1 L1031.3,1479.2 L1032.2,1486.4 L1032.8,1474.4 L1033.5,1482.2 L1034.1,1475.1 L1034.7,1488.7 L1035.5,1485.1 L1036.1,1486.2 L1036.9,1485.0 L1037.5,1490.5 L1038.3,1484.2 L1038.9,1487.4 L1039.6,1479.5 L1040.5,1485.4 L1041.2,1480.5 L1041.9,1491.0 L1042.5,1479.4 L1043.5,1491.5 L1044.1,1484.3 L1044.8,1490.4 L1045.5,1486.1 L1046.2,1486.7 L1046.9,1480.2 L1047.7,1492.2 L1048.5,1479.8 L1049.2,1493.1 L1049.9,1482.7 L1050.7,1485.0 L1051.5,1480.5 L1052.0,1489.3 L1052.8,1487.6 L1053.4,1487.5 L1054.3,1487.6 L1055.1,1492.7 L1055.9,1481.9 L1056.5,1492.2 L1057.4,1483.0 L1058.2,1490.9 L1058.8,1479.1 L1059.7,1490.1 L1060.4,1481.3 L1061.2,1485.8 L1061.9,1480.3 L1062.7,1486.5 L1063.6,1480.3 L1064.5,1485.3 L1065.2,1483.1 L1066.1,1487.1 L1066.8,1484.1 L1067.3,1487.8 L1068.3,1484.6 L1068.8,1492.8 L1069.5,1485.5 L1070.5,1493.8 L1071.1,1487.6 L1071.9,1487.5 L1072.5,1488.4 L1073.2,1489.6 L1074.1,1490.1 L1074.6,1494.2 L1075.2,1490.5 L1076.1,1493.7 L1076.7,1492.8 L1077.3,1495.3 L1078.1,1492.2 L1078.9,1492.9 L1079.6,1492.4 L1080.5,1492.4 L1081.2,1491.2 L1082.1,1494.3 L1082.7,1493.5 L1083.6,1492.9 L1084.3,1491.3 L1085.0,1495.0 L1086.0,1490.8 L1086.6,1495.7 L1087.3,1491.9 L1088.1,1493.3 L1088.9,1492.9 L1089.5,1494.6 L1090.1,1487.4 L1090.8,1491.5 L1091.8,1487.7 L1092.5,1493.5 L1093.4,1490.0 L1094.2,1487.6 L1095.1,1488.8 L1095.7,1488.9 L1096.3,1484.8 L1097.0,1486.5 L1097.7,1481.8 L1098.4,1488.2 L1099.1,1481.4 L1099.6,1487.9 L1100.2,1484.4 L1100.9,1493.4 L1101.8,1486.6 L1102.5,1493.9 L1103.1,1485.2 L1103.9,1492.1 L1104.7,1488.7 L1105.4,1491.3 L1106.3,1482.4 L1107.1,1494.1 L1107.8,1483.4 L1108.4,1490.5 L1109.1,1490.1 L1110.1,1488.4 L1110.6,1484.3 L1111.3,1492.0 L1112.0,1487.0 L1112.7,1491.9 L1113.5,1487.4 L1114.1,1489.1 L1114.7,1482.0 L1115.5,1489.2 L1116.1,1482.9 L1116.7,1493.6 L1117.2,1484.1 L1118.0,1493.4 L1118.7,1483.0 L1119.5,1493.8 L1120.1,1488.6 L1120.6,1491.9 L1121.2,1482.5 L1121.8,1491.1 L1122.6,1483.7 L1123.5,1492.1 L1124.2,1486.4 L1124.7,1492.0 L1125.5,1482.3 L1126.3,1490.0 L1127.1,1490.3 L1127.8,1492.4 L1128.6,1489.3 L1129.2,1491.2 L1130.1,1483.6 L1130.9,1493.5 L1131.7,1483.2 L1132.4,1492.4 L1133.2,1489.0 L1134.0,1487.4 L1134.7,1484.6 L1135.6,1493.3 L1136.5,1485.3 L1137.1,1493.9 L1137.7,1485.7 L1138.5,1492.6 L1139.5,1487.4 L1140.2,1493.7 L1141.1,1489.3 L1142.0,1491.2 L1142.8,1486.0 L1143.4,1488.4 L1144.3,1484.4 L1145.1,1493.7 L1146.0,1488.1 L1146.9,1493.2 L1147.6,1484.5 L1148.2,1491.2 L1148.7,1490.5 L1149.3,1488.0 L1150.3,1485.9 L1150.9,1490.5 L1151.7,1487.9 L1152.5,1489.7 L1153.0,1489.3 L1153.7,1493.7 L1154.4,1487.0 L1155.0,1491.7 L1155.6,1487.1 L1156.2,1491.0 L1156.7,1486.7 L1157.3,1489.0 L1158.1,1488.0 L1158.8,1491.3 L1159.6,1486.6 L1160.4,1492.1 L1161.4,1486.4 L1162.2,1492.6 L1162.9,1488.0 L1163.8,1492.1 L1164.6,1488.9 L1165.5,1493.1 L1166.0,1487.7 L1166.9,1491.1 L1167.7,1487.7 L1168.3,1491.9 L1168.9,1490.9 L1169.6,1492.3 L1170.2,1491.5 L1171.0,1492.3 L1171.7,1490.0 L1172.3,1493.5 L1172.9,1487.3 L1173.8,1491.6 L1174.7,1489.5 L1175.6,1493.6 L1176.4,1489.0 L1177.3,1494.0 L1178.2,1491.2 L1178.9,1490.3 L1179.4,1490.6 L1180.0,1493.2 L1180.6,1487.8 L1181.4,1493.0 L1182.1,1489.2 L1182.6,1494.1 L1183.5,1490.4 L1184.2,1490.6 L1185.2,1489.8 L1185.8,1493.4 L1186.7,1488.2 L1187.3,1491.2 L1187.9,1489.9 L1188.5,1491.0 L1189.5,1491.1 L1190.2,1493.7 L1191.1,1491.9 L1191.7,1491.8 L1192.3,1488.4 L1193.2,1491.8 L1193.8,1489.1 L1194.7,1492.9 L1195.2,1491.0 L1195.9,1491.8 L1196.5,1491.2 L1197.1,1492.0 L1197.9,1490.4 L1198.7,1491.0 L1199.5,1491.0 L1200.1,1490.8 L1200.9,1490.8 L1201.7,1494.0 L1202.6,1490.1 L1203.4,1492.6 L1203.9,1489.5 L1204.5,1493.6 L1205.4,1491.7 L1206.0,1491.6 L1206.6,1490.8 L1207.4,1493.8 L1208.3,1488.1 L1208.8,1492.8 L1209.6,1490.3 L1210.6,1492.7 L1211.1,1489.7 L1211.9,1493.2 L1212.7,1488.8" fill="none" stroke="#3030ff" stroke-width="1.5" stroke-linejoin="round" clip-path="url(#c140374334380608)"/><text transform="translate(120.49,487.30) scale(1.0255,1)" font-family='"Liberation Sans", sans-serif' font-size="59.59" font-weight="bold" fill="#000" >d</text><text transform="translate(702.87,486.85) scale(1.0749,1)" font-family='"Liberation Sans", sans-serif' font-size="55.47" font-weight="bold" fill="#000" >e</text><text transform="translate(127.47,1040.30) scale(1.0908,1)" font-family='"Liberation Sans", sans-serif' font-size="60.83" font-weight="bold" fill="#000" >f</text><text transform="translate(701.27,1040.04) scale(1.0435,1)" font-family='"Liberation Sans", sans-serif' font-size="59.25" font-weight="bold" fill="#000" >g</text></svg></body></html>
